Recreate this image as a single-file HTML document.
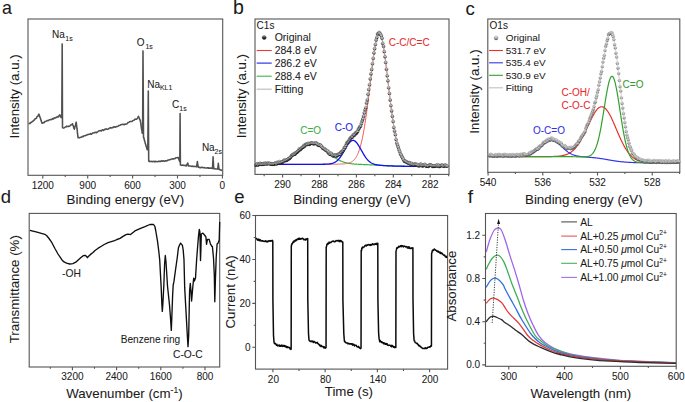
<!DOCTYPE html>
<html><head><meta charset="utf-8"><style>
html,body{margin:0;padding:0;background:#fff;}
svg{display:block;font-family:"Liberation Sans", sans-serif;}
</style></head><body>
<svg width="685" height="402" viewBox="0 0 685 402">
<defs>
<linearGradient id="sph" x1="0" y1="0" x2="0" y2="1"><stop offset="0" stop-color="#f2f2f2"/><stop offset="0.5" stop-color="#b4b4b4"/><stop offset="0.8" stop-color="#444"/><stop offset="1" stop-color="#000"/></linearGradient>
<linearGradient id="sph2" x1="0" y1="0" x2="0" y2="1"><stop offset="0" stop-color="#f4f4f4"/><stop offset="0.5" stop-color="#b8b8b8"/><stop offset="1" stop-color="#444"/></linearGradient>
<linearGradient id="sphL" x1="0" y1="0" x2="0" y2="1"><stop offset="0" stop-color="#bbb"/><stop offset="0.5" stop-color="#333"/><stop offset="1" stop-color="#000"/></linearGradient>
<linearGradient id="sphL2" x1="0" y1="0" x2="0" y2="1"><stop offset="0" stop-color="#ddd"/><stop offset="0.5" stop-color="#666"/><stop offset="1" stop-color="#222"/></linearGradient>
</defs>
<rect width="685" height="402" fill="#fff"/>
<g>
<text x="2.00" y="14.40" font-size="17.8" text-anchor="start" fill="#1a1a1a" stroke="#1a1a1a" stroke-width="0.06" >a</text>
<rect x="28.00" y="19.00" width="194.70" height="156.30" fill="none" stroke="#555555" stroke-width="1.1"/>
<path d="M222.40 175.30v3.2M199.95 175.30v1.8M177.50 175.30v3.2M155.05 175.30v1.8M132.60 175.30v3.2M110.15 175.30v1.8M87.70 175.30v3.2M65.25 175.30v1.8M42.80 175.30v3.2" stroke="#555555" stroke-width="1.1" fill="none"/>
<text x="42.80" y="188.60" font-size="10" text-anchor="middle" fill="#1a1a1a" stroke="#1a1a1a" stroke-width="0.06" >1200</text>
<text x="87.70" y="188.60" font-size="10" text-anchor="middle" fill="#1a1a1a" stroke="#1a1a1a" stroke-width="0.06" >900</text>
<text x="132.60" y="188.60" font-size="10" text-anchor="middle" fill="#1a1a1a" stroke="#1a1a1a" stroke-width="0.06" >600</text>
<text x="177.50" y="188.60" font-size="10" text-anchor="middle" fill="#1a1a1a" stroke="#1a1a1a" stroke-width="0.06" >300</text>
<text x="222.40" y="188.60" font-size="10" text-anchor="middle" fill="#1a1a1a" stroke="#1a1a1a" stroke-width="0.06" >0</text>
<text x="125.35" y="203.80" font-size="13.3" text-anchor="middle" fill="#1a1a1a" stroke="#1a1a1a" stroke-width="0.06" >Binding energy (eV)</text>
<text x="0" y="0" font-size="13.3" text-anchor="middle" fill="#1a1a1a" stroke="#1a1a1a" stroke-width="0.06" transform="translate(19.20,96.40) rotate(-90)">Intensity (a.u.)</text>
<path d="M28.70 124.02 L29.34 123.42 L29.99 123.49 L30.63 122.49 L31.27 122.52 L31.91 121.92 L32.56 121.19 L33.20 121.21 L33.76 120.20 L34.32 120.05 L34.88 119.15 L35.44 118.63 L36.00 118.42 L36.41 118.21 L36.83 116.90 L37.24 116.38 L37.66 116.17 L38.07 115.88 L38.49 114.89 L38.90 114.10 L39.14 115.35 L39.37 115.10 L39.61 116.59 L39.84 116.70 L40.08 117.24 L40.31 117.89 L40.55 118.76 L40.79 119.94 L41.02 119.99 L41.26 121.07 L41.49 121.80 L41.73 122.22 L41.96 123.07 L42.20 123.26 L42.82 122.84 L43.43 122.57 L44.05 122.63 L44.67 121.96 L45.28 121.43 L45.90 121.29 L46.58 120.91 L47.26 120.51 L47.93 120.76 L48.61 120.42 L49.29 119.72 L49.97 119.81 L50.64 119.51 L51.32 119.62 L52.00 119.23 L52.73 118.53 L53.47 118.97 L54.20 117.85 L54.93 117.90 L55.67 117.98 L56.40 117.12 L57.13 117.20 L57.87 116.49 L58.60 116.87 L58.93 116.23 L59.27 115.31 L59.60 114.88 L60.00 115.06 L60.40 116.20 L60.80 116.84 L61.20 117.58 L61.80 117.00 L62.20 43.90 L62.50 127.50 L62.80 127.86 L63.60 127.96 L64.40 127.79 L65.20 127.05 L66.00 126.96 L66.76 126.14 L67.52 126.56 L68.28 126.29 L69.04 126.41 L69.80 126.02 L70.47 125.11 L71.15 124.84 L71.83 124.74 L72.50 123.72 L72.76 124.90 L73.01 125.35 L73.27 126.05 L73.53 126.73 L73.79 128.18 L74.04 128.29 L74.30 129.15 L74.49 128.57 L74.68 128.33 L74.87 126.82 L75.06 126.47 L75.25 125.85 L75.44 125.46 L75.63 124.68 L75.82 124.00 L76.01 122.70 L76.20 122.12 L76.29 122.78 L76.37 124.02 L76.46 124.81 L76.54 124.73 L76.63 125.47 L76.71 126.25 L76.80 126.97 L76.89 127.94 L76.97 128.76 L77.06 129.15 L77.14 129.61 L77.23 130.75 L77.31 131.42 L77.40 132.33 L77.49 133.44 L77.57 133.90 L77.66 134.44 L77.74 135.26 L77.83 136.04 L77.91 136.13 L78.00 137.70 L78.75 137.58 L79.50 137.67 L80.25 137.60 L81.00 137.19 L81.68 136.97 L82.36 136.45 L83.04 136.76 L83.71 135.96 L84.39 135.74 L85.07 135.66 L85.75 135.39 L86.43 135.34 L87.11 134.83 L87.79 134.55 L88.46 134.48 L89.14 134.20 L89.82 134.24 L90.50 133.68 L91.18 134.30 L91.86 133.81 L92.54 133.12 L93.21 133.00 L93.89 132.87 L94.57 132.66 L95.25 132.20 L95.93 132.70 L96.61 132.62 L97.29 131.87 L97.96 131.66 L98.64 131.04 L99.32 130.83 L100.00 130.84 L100.67 130.57 L101.35 130.95 L102.03 130.09 L102.70 129.76 L103.38 130.50 L104.05 129.89 L104.72 129.32 L105.40 129.52 L106.08 128.82 L106.75 129.13 L107.42 129.39 L108.10 129.08 L108.78 128.73 L109.45 128.10 L110.12 128.02 L110.80 127.63 L111.47 128.04 L112.15 127.61 L112.83 127.67 L113.50 127.03 L114.17 126.73 L114.85 127.13 L115.53 127.11 L116.20 126.79 L116.88 126.56 L117.55 126.38 L118.22 126.11 L118.90 125.41 L119.58 125.51 L120.25 125.16 L120.92 124.64 L121.60 124.45 L122.28 124.51 L122.95 124.30 L123.62 124.54 L124.30 124.62 L124.97 123.92 L125.65 124.22 L126.33 124.08 L127.00 123.86 L127.67 122.94 L128.33 122.47 L129.00 122.15 L129.67 121.79 L130.33 121.47 L131.00 121.56 L131.67 121.51 L132.33 121.13 L133.00 120.44 L133.67 120.29 L134.33 120.11 L135.00 119.06 L135.67 119.31 L136.33 119.24 L137.00 118.78 L137.50 118.12 L138.00 117.21 L138.50 116.28 L138.86 117.63 L139.22 117.91 L139.58 119.12 L139.94 120.03 L140.30 120.20 L140.41 120.91 L140.51 122.16 L140.62 122.64 L140.72 122.79 L140.83 123.45 L140.93 124.18 L141.04 125.64 L141.14 126.25 L141.25 126.30 L141.36 127.68 L141.46 128.54 L141.57 128.92 L141.67 129.32 L141.78 130.23 L141.88 130.51 L141.99 131.10 L142.09 132.77 L142.20 133.15 L142.60 133.00 L143.00 50.90 L143.50 137.40 L143.80 137.43 L143.96 138.52 L144.12 138.71 L144.29 139.83 L144.45 140.48 L144.61 140.55 L144.78 141.28 L144.94 142.01 L145.10 142.64 L145.32 143.67 L145.54 144.02 L145.76 144.86 L145.98 145.25 L146.20 146.71 L146.42 146.83 L146.64 147.62 L146.86 148.42 L147.08 149.42 L147.30 149.62 L147.80 149.70 L148.30 91.00 L148.70 161.00 L149.00 161.42 L149.75 161.20 L150.50 161.43 L151.25 161.62 L152.00 161.32 L152.72 161.70 L153.44 161.39 L154.17 161.17 L154.89 161.92 L155.61 161.25 L156.33 161.51 L157.06 161.71 L157.78 161.50 L158.50 161.23 L159.22 161.37 L159.94 161.37 L160.67 161.55 L161.39 160.83 L162.11 161.24 L162.83 160.88 L163.56 160.87 L164.28 161.32 L165.00 161.01 L165.68 160.87 L166.35 160.87 L167.03 160.83 L167.70 160.17 L168.38 160.14 L169.05 159.84 L169.72 159.66 L170.40 159.64 L171.08 159.21 L171.75 159.10 L172.43 158.85 L173.10 159.12 L173.78 158.68 L174.45 158.66 L175.12 158.54 L175.80 157.66 L176.53 157.69 L177.27 157.81 L178.00 157.44 L178.27 157.49 L178.53 158.22 L178.80 159.29 L179.07 159.67 L179.33 160.59 L179.60 161.17 L179.80 161.60 L180.10 113.60 L180.40 165.00 L180.60 165.10 L181.34 165.25 L182.07 165.39 L182.81 165.02 L183.55 165.43 L184.29 165.47 L185.03 165.24 L185.76 165.75 L186.50 165.88 L186.80 164.78 L187.10 164.57 L187.40 163.59 L187.70 162.99 L187.90 164.04 L188.10 164.70 L188.30 165.05 L188.50 165.96 L189.23 166.08 L189.95 166.05 L190.68 166.04 L191.41 166.18 L192.14 166.50 L192.86 166.15 L193.59 166.54 L194.32 166.55 L195.05 166.37 L195.77 166.63 L196.50 166.87 L196.63 166.06 L196.76 165.05 L196.89 164.86 L197.01 164.00 L197.14 163.37 L197.27 162.11 L197.40 161.46 L197.50 162.04 L197.60 163.19 L197.70 163.60 L197.80 164.23 L197.90 165.12 L198.00 166.12 L198.10 166.78 L198.20 167.16 L198.91 167.14 L199.63 167.65 L200.34 167.49 L201.06 167.62 L201.77 167.30 L202.49 167.33 L203.20 167.76 L203.92 167.66 L204.63 167.49 L205.35 168.06 L206.06 167.93 L206.78 168.08 L207.50 167.70 L208.21 168.21 L208.93 167.79 L209.64 168.32 L210.35 168.12 L211.07 168.10 L211.78 168.28 L212.50 168.56 L212.54 167.46 L212.57 166.68 L212.61 166.22 L212.65 165.34 L212.69 164.57 L212.72 163.90 L212.76 163.13 L212.80 162.52 L212.84 161.89 L212.88 161.18 L212.91 160.76 L212.95 159.77 L212.99 159.20 L213.03 158.31 L213.06 157.71 L213.10 156.81 L213.14 157.66 L213.17 158.23 L213.21 159.38 L213.25 159.98 L213.29 160.48 L213.32 161.36 L213.36 162.35 L213.40 162.56 L213.44 163.70 L213.47 164.18 L213.51 164.93 L213.55 165.85 L213.59 166.30 L213.62 167.08 L213.66 167.90 L213.70 168.79 L214.52 168.51 L215.34 168.90 L216.16 168.92 L216.98 168.98 L217.80 168.94 L217.87 168.12 L217.94 167.16 L218.01 166.42 L218.09 165.60 L218.16 165.22 L218.23 164.14 L218.30 163.30 L218.39 164.00 L218.48 165.20 L218.56 165.97 L218.65 166.60 L218.74 167.12 L218.82 167.85 L218.91 168.63 L219.00 169.48 L219.75 169.54 L220.50 169.97 L221.25 170.11 L222.00 170.78" stroke="#505050" stroke-width="1.55" fill="none" stroke-linejoin="round" />
<text x="52.00" y="38.30" font-size="10" text-anchor="start" fill="#1a1a1a" stroke="#1a1a1a" stroke-width="0.06" >Na</text>
<text x="65.30" y="40.60" font-size="7.0" text-anchor="start" fill="#1a1a1a" stroke="#1a1a1a" stroke-width="0.06" >1s</text>
<text x="136.80" y="46.40" font-size="10" text-anchor="start" fill="#1a1a1a" stroke="#1a1a1a" stroke-width="0.06" >O</text>
<text x="145.40" y="48.70" font-size="7.0" text-anchor="start" fill="#1a1a1a" stroke="#1a1a1a" stroke-width="0.06" >1s</text>
<text x="147.20" y="87.60" font-size="10" text-anchor="start" fill="#1a1a1a" stroke="#1a1a1a" stroke-width="0.06" >Na</text>
<text x="159.90" y="90.30" font-size="7.0" text-anchor="start" fill="#1a1a1a" stroke="#1a1a1a" stroke-width="0.06" >KL1</text>
<text x="172.10" y="108.30" font-size="10" text-anchor="start" fill="#1a1a1a" stroke="#1a1a1a" stroke-width="0.06" >C</text>
<text x="179.30" y="110.50" font-size="7.0" text-anchor="start" fill="#1a1a1a" stroke="#1a1a1a" stroke-width="0.06" >1s</text>
<text x="201.90" y="150.90" font-size="10" text-anchor="start" fill="#1a1a1a" stroke="#1a1a1a" stroke-width="0.06" >Na</text>
<text x="214.60" y="153.80" font-size="7.0" text-anchor="start" fill="#1a1a1a" stroke="#1a1a1a" stroke-width="0.06" >2s</text>
</g>
<g>
<text x="233.00" y="14.30" font-size="19.5" text-anchor="start" fill="#1a1a1a" stroke="#1a1a1a" stroke-width="0.06" >b</text>
<rect x="255.00" y="19.00" width="194.00" height="155.40" fill="none" stroke="#555555" stroke-width="1.1"/>
<path d="M264.15 174.40v1.8M282.60 174.40v3.2M301.05 174.40v1.8M319.50 174.40v3.2M337.95 174.40v1.8M356.40 174.40v3.2M374.85 174.40v1.8M393.30 174.40v3.2M411.75 174.40v1.8M430.20 174.40v3.2M448.65 174.40v1.8" stroke="#555555" stroke-width="1.1" fill="none"/>
<text x="282.60" y="187.80" font-size="10" text-anchor="middle" fill="#1a1a1a" stroke="#1a1a1a" stroke-width="0.06" >290</text>
<text x="319.50" y="187.80" font-size="10" text-anchor="middle" fill="#1a1a1a" stroke="#1a1a1a" stroke-width="0.06" >288</text>
<text x="356.40" y="187.80" font-size="10" text-anchor="middle" fill="#1a1a1a" stroke="#1a1a1a" stroke-width="0.06" >286</text>
<text x="393.30" y="187.80" font-size="10" text-anchor="middle" fill="#1a1a1a" stroke="#1a1a1a" stroke-width="0.06" >284</text>
<text x="430.20" y="187.80" font-size="10" text-anchor="middle" fill="#1a1a1a" stroke="#1a1a1a" stroke-width="0.06" >282</text>
<text x="352.00" y="203.80" font-size="13.3" text-anchor="middle" fill="#1a1a1a" stroke="#1a1a1a" stroke-width="0.06" >Binding energy (eV)</text>
<text x="0" y="0" font-size="13.3" text-anchor="middle" fill="#1a1a1a" stroke="#1a1a1a" stroke-width="0.06" transform="translate(245.50,96.10) rotate(-90)">Intensity (a.u.)</text>
<path d="M256.00 164.28 L256.50 164.28 L257.00 164.28 L257.50 164.28 L258.00 164.27 L258.50 164.27 L259.00 164.27 L259.50 164.26 L260.00 164.26 L260.50 164.25 L261.00 164.25 L261.50 164.24 L262.00 164.23 L262.50 164.23 L263.00 164.22 L263.50 164.21 L264.00 164.20 L264.50 164.18 L265.00 164.17 L265.50 164.16 L266.00 164.14 L266.50 164.12 L267.00 164.10 L267.50 164.08 L268.00 164.06 L268.50 164.03 L269.00 164.01 L269.50 163.98 L270.00 163.94 L270.50 163.91 L271.00 163.87 L271.50 163.83 L272.00 163.78 L272.50 163.73 L273.00 163.68 L273.50 163.62 L274.00 163.56 L274.50 163.49 L275.00 163.41 L275.50 163.34 L276.00 163.25 L276.50 163.16 L277.00 163.07 L277.50 162.96 L278.00 162.85 L278.50 162.74 L279.00 162.61 L279.50 162.48 L280.00 162.34 L280.50 162.19 L281.00 162.03 L281.50 161.87 L282.00 161.69 L282.50 161.51 L283.00 161.31 L283.50 161.11 L284.00 160.89 L284.50 160.67 L285.00 160.43 L285.50 160.19 L286.00 159.93 L286.50 159.66 L287.00 159.38 L287.50 159.09 L288.00 158.79 L288.50 158.48 L289.00 158.16 L289.50 157.83 L290.00 157.49 L290.50 157.14 L291.00 156.77 L291.50 156.40 L292.00 156.02 L292.50 155.64 L293.00 155.24 L293.50 154.84 L294.00 154.43 L294.50 154.01 L295.00 153.59 L295.50 153.17 L296.00 152.74 L296.50 152.31 L297.00 151.88 L297.50 151.44 L298.00 151.01 L298.50 150.57 L299.00 150.14 L299.50 149.72 L300.00 149.29 L300.50 148.87 L301.00 148.46 L301.50 148.06 L302.00 147.66 L302.50 147.27 L303.00 146.90 L303.50 146.54 L304.00 146.19 L304.50 145.85 L305.00 145.53 L305.50 145.22 L306.00 144.94 L306.50 144.67 L307.00 144.42 L307.50 144.19 L308.00 143.98 L308.50 143.79 L309.00 143.62 L309.50 143.48 L310.00 143.36 L310.50 143.26 L311.00 143.18 L311.50 143.13 L312.00 143.11 L312.50 143.10 L313.00 143.12 L313.50 143.17 L314.00 143.24 L314.50 143.33 L315.00 143.45 L315.50 143.59 L316.00 143.75 L316.50 143.94 L317.00 144.14 L317.50 144.37 L318.00 144.62 L318.50 144.88 L319.00 145.17 L319.50 145.47 L320.00 145.79 L320.50 146.12 L321.00 146.47 L321.50 146.83 L322.00 147.20 L322.50 147.59 L323.00 147.98 L323.50 148.38 L324.00 148.79 L324.50 149.21 L325.00 149.63 L325.50 150.06 L326.00 150.49 L326.50 150.93 L327.00 151.36 L327.50 151.80 L328.00 152.23 L328.50 152.66 L329.00 153.09 L329.50 153.52 L330.00 153.94 L330.50 154.36 L331.00 154.77 L331.50 155.17 L332.00 155.57 L332.50 155.96 L333.00 156.34 L333.50 156.71 L334.00 157.08 L334.50 157.43 L335.00 157.78 L335.50 158.11 L336.00 158.43 L336.50 158.75 L337.00 159.05 L337.50 159.34 L338.00 159.63 L338.50 159.90 L339.00 160.16 L339.50 160.41 L340.00 160.65 L340.50 160.87 L341.00 161.09 L341.50 161.30 L342.00 161.50 L342.50 161.69 L343.00 161.87 L343.50 162.04 L344.00 162.20 L344.50 162.35 L345.00 162.50 L345.50 162.63 L346.00 162.76 L346.50 162.88 L347.00 163.00 L347.50 163.10 L348.00 163.20 L348.50 163.30 L349.00 163.39 L349.50 163.47 L350.00 163.55 L350.50 163.62 L351.00 163.69 L351.50 163.75 L352.00 163.81 L352.50 163.86 L353.00 163.92 L353.50 163.96 L354.00 164.01 L354.50 164.05 L355.00 164.09 L355.50 164.13 L356.00 164.17 L356.50 164.20 L357.00 164.23 L357.50 164.26 L358.00 164.29 L358.50 164.31 L359.00 164.34 L359.50 164.36 L360.00 164.39 L360.50 164.41 L361.00 164.43 L361.50 164.45 L362.00 164.47 L362.50 164.50 L363.00 164.52 L363.50 164.54 L364.00 164.56 L364.50 164.58 L365.00 164.60 L365.50 164.62 L366.00 164.64 L366.50 164.66 L367.00 164.68 L367.50 164.70 L368.00 164.72 L368.50 164.74 L369.00 164.76 L369.50 164.79 L370.00 164.81 L370.50 164.83 L371.00 164.86 L371.50 164.88 L372.00 164.91 L372.50 164.93 L373.00 164.96 L373.50 164.98 L374.00 165.01 L374.50 165.04 L375.00 165.06 L375.50 165.09 L376.00 165.12 L376.50 165.15 L377.00 165.18 L377.50 165.20 L378.00 165.23 L378.50 165.26 L379.00 165.29 L379.50 165.32 L380.00 165.35 L380.50 165.38 L381.00 165.41 L381.50 165.44 L382.00 165.47 L382.50 165.49 L383.00 165.52 L383.50 165.55 L384.00 165.58 L384.50 165.61 L385.00 165.63 L385.50 165.66 L386.00 165.69 L386.50 165.71 L387.00 165.74 L387.50 165.76 L388.00 165.79 L388.50 165.81 L389.00 165.84 L389.50 165.86 L390.00 165.88 L390.50 165.90 L391.00 165.92 L391.50 165.94 L392.00 165.96 L392.50 165.98 L393.00 166.00 L393.50 166.02 L394.00 166.03 L394.50 166.05 L395.00 166.07 L395.50 166.08 L396.00 166.10 L396.50 166.11 L397.00 166.12 L397.50 166.14 L398.00 166.15 L398.50 166.16 L399.00 166.17 L399.50 166.18 L400.00 166.19 L400.50 166.20 L401.00 166.21 L401.50 166.22 L402.00 166.23 L402.50 166.24 L403.00 166.25 L403.50 166.26 L404.00 166.26 L404.50 166.27 L405.00 166.28 L405.50 166.28 L406.00 166.29 L406.50 166.30 L407.00 166.30 L407.50 166.31 L408.00 166.31 L408.50 166.32 L409.00 166.32 L409.50 166.32 L410.00 166.33 L410.50 166.33 L411.00 166.34 L411.50 166.34 L412.00 166.34 L412.50 166.34 L413.00 166.35 L413.50 166.35 L414.00 166.35 L414.50 166.36 L415.00 166.36 L415.50 166.36 L416.00 166.36 L416.50 166.36 L417.00 166.37 L417.50 166.37 L418.00 166.37 L418.50 166.37 L419.00 166.37 L419.50 166.37 L420.00 166.38 L420.50 166.38 L421.00 166.38 L421.50 166.38 L422.00 166.38 L422.50 166.38 L423.00 166.38 L423.50 166.38 L424.00 166.38 L424.50 166.39 L425.00 166.39 L425.50 166.39 L426.00 166.39 L426.50 166.39 L427.00 166.39 L427.50 166.39 L428.00 166.39 L428.50 166.39 L429.00 166.39 L429.50 166.39 L430.00 166.39 L430.50 166.39 L431.00 166.39 L431.50 166.39 L432.00 166.39 L432.50 166.39 L433.00 166.39 L433.50 166.39 L434.00 166.39 L434.50 166.40 L435.00 166.40 L435.50 166.40 L436.00 166.40 L436.50 166.40 L437.00 166.40 L437.50 166.40 L438.00 166.40 L438.50 166.40 L439.00 166.40 L439.50 166.40 L440.00 166.40 L440.50 166.40 L441.00 166.40 L441.50 166.40 L442.00 166.40 L442.50 166.40 L443.00 166.40 L443.50 166.40 L444.00 166.40 L444.50 166.40 L445.00 166.40 L445.50 166.40 L446.00 166.40 L446.50 166.40 L447.00 166.40 L447.50 166.40 L448.00 166.40 L448.50 166.40 L449.00 166.40" stroke="#3cb44b" stroke-width="1.2" fill="none" stroke-linejoin="round" />
<path d="M256.00 164.30 L256.50 164.30 L257.00 164.30 L257.50 164.30 L258.00 164.30 L258.50 164.30 L259.00 164.30 L259.50 164.30 L260.00 164.30 L260.50 164.30 L261.00 164.30 L261.50 164.30 L262.00 164.30 L262.50 164.30 L263.00 164.30 L263.50 164.30 L264.00 164.30 L264.50 164.30 L265.00 164.30 L265.50 164.30 L266.00 164.30 L266.50 164.30 L267.00 164.30 L267.50 164.30 L268.00 164.30 L268.50 164.30 L269.00 164.30 L269.50 164.30 L270.00 164.30 L270.50 164.30 L271.00 164.30 L271.50 164.30 L272.00 164.30 L272.50 164.30 L273.00 164.30 L273.50 164.30 L274.00 164.30 L274.50 164.30 L275.00 164.30 L275.50 164.30 L276.00 164.30 L276.50 164.30 L277.00 164.30 L277.50 164.30 L278.00 164.30 L278.50 164.30 L279.00 164.30 L279.50 164.30 L280.00 164.30 L280.50 164.30 L281.00 164.30 L281.50 164.30 L282.00 164.30 L282.50 164.30 L283.00 164.30 L283.50 164.30 L284.00 164.30 L284.50 164.30 L285.00 164.30 L285.50 164.30 L286.00 164.30 L286.50 164.30 L287.00 164.30 L287.50 164.30 L288.00 164.30 L288.50 164.30 L289.00 164.30 L289.50 164.30 L290.00 164.30 L290.50 164.30 L291.00 164.30 L291.50 164.30 L292.00 164.30 L292.50 164.30 L293.00 164.30 L293.50 164.30 L294.00 164.30 L294.50 164.30 L295.00 164.30 L295.50 164.30 L296.00 164.30 L296.50 164.30 L297.00 164.30 L297.50 164.30 L298.00 164.30 L298.50 164.30 L299.00 164.30 L299.50 164.30 L300.00 164.30 L300.50 164.30 L301.00 164.30 L301.50 164.30 L302.00 164.30 L302.50 164.30 L303.00 164.30 L303.50 164.30 L304.00 164.30 L304.50 164.30 L305.00 164.30 L305.50 164.30 L306.00 164.30 L306.50 164.30 L307.00 164.30 L307.50 164.30 L308.00 164.30 L308.50 164.30 L309.00 164.30 L309.50 164.30 L310.00 164.30 L310.50 164.30 L311.00 164.30 L311.50 164.30 L312.00 164.30 L312.50 164.30 L313.00 164.30 L313.50 164.30 L314.00 164.30 L314.50 164.30 L315.00 164.30 L315.50 164.30 L316.00 164.30 L316.50 164.30 L317.00 164.30 L317.50 164.30 L318.00 164.30 L318.50 164.30 L319.00 164.30 L319.50 164.29 L320.00 164.29 L320.50 164.29 L321.00 164.29 L321.50 164.29 L322.00 164.29 L322.50 164.29 L323.00 164.29 L323.50 164.29 L324.00 164.29 L324.50 164.29 L325.00 164.28 L325.50 164.28 L326.00 164.28 L326.50 164.28 L327.00 164.28 L327.50 164.28 L328.00 164.27 L328.50 164.27 L329.00 164.27 L329.50 164.27 L330.00 164.26 L330.50 164.26 L331.00 164.26 L331.50 164.25 L332.00 164.25 L332.50 164.24 L333.00 164.24 L333.50 164.23 L334.00 164.23 L334.50 164.22 L335.00 164.21 L335.50 164.20 L336.00 164.20 L336.50 164.19 L337.00 164.18 L337.50 164.17 L338.00 164.15 L338.50 164.14 L339.00 164.13 L339.50 164.11 L340.00 164.09 L340.50 164.08 L341.00 164.05 L341.50 164.03 L342.00 164.00 L342.50 163.98 L343.00 163.94 L343.50 163.91 L344.00 163.87 L344.50 163.82 L345.00 163.77 L345.50 163.71 L346.00 163.64 L346.50 163.56 L347.00 163.48 L347.50 163.38 L348.00 163.27 L348.50 163.14 L349.00 163.00 L349.50 162.83 L350.00 162.65 L350.50 162.44 L351.00 162.20 L351.50 161.93 L352.00 161.62 L352.50 161.28 L353.00 160.89 L353.50 160.46 L354.00 159.97 L354.50 159.42 L355.00 158.81 L355.50 158.12 L356.00 157.36 L356.50 156.52 L357.00 155.59 L357.50 154.56 L358.00 153.43 L358.50 152.19 L359.00 150.83 L359.50 149.35 L360.00 147.73 L360.50 145.99 L361.00 144.10 L361.50 142.06 L362.00 139.87 L362.50 137.53 L363.00 135.03 L363.50 132.38 L364.00 129.56 L364.50 126.59 L365.00 123.46 L365.50 120.18 L366.00 116.75 L366.50 113.19 L367.00 109.50 L367.50 105.68 L368.00 101.76 L368.50 97.75 L369.00 93.66 L369.50 89.51 L370.00 85.33 L370.50 81.12 L371.00 76.93 L371.50 72.76 L372.00 68.65 L372.50 64.62 L373.00 60.71 L373.50 56.93 L374.00 53.33 L374.50 49.93 L375.00 46.76 L375.50 43.84 L376.00 41.22 L376.50 38.91 L377.00 36.95 L377.50 35.34 L378.00 34.12 L378.50 33.29 L379.00 32.87 L379.50 32.85 L380.00 33.26 L380.50 34.07 L381.00 35.29 L381.50 36.90 L382.00 38.88 L382.50 41.20 L383.00 43.85 L383.50 46.79 L384.00 50.01 L384.50 53.46 L385.00 57.11 L385.50 60.94 L386.00 64.92 L386.50 69.01 L387.00 73.19 L387.50 77.42 L388.00 81.69 L388.50 85.96 L389.00 90.20 L389.50 94.41 L390.00 98.55 L390.50 102.62 L391.00 106.58 L391.50 110.43 L392.00 114.16 L392.50 117.75 L393.00 121.19 L393.50 124.48 L394.00 127.62 L394.50 130.59 L395.00 133.40 L395.50 136.04 L396.00 138.53 L396.50 140.85 L397.00 143.01 L397.50 145.02 L398.00 146.88 L398.50 148.60 L399.00 150.18 L399.50 151.63 L400.00 152.96 L400.50 154.17 L401.00 155.27 L401.50 156.27 L402.00 157.18 L402.50 158.00 L403.00 158.73 L403.50 159.40 L404.00 159.99 L404.50 160.53 L405.00 161.00 L405.50 161.43 L406.00 161.81 L406.50 162.15 L407.00 162.45 L407.50 162.72 L408.00 162.96 L408.50 163.18 L409.00 163.37 L409.50 163.54 L410.00 163.70 L410.50 163.84 L411.00 163.96 L411.50 164.07 L412.00 164.17 L412.50 164.27 L413.00 164.35 L413.50 164.43 L414.00 164.50 L414.50 164.56 L415.00 164.62 L415.50 164.68 L416.00 164.73 L416.50 164.78 L417.00 164.83 L417.50 164.87 L418.00 164.91 L418.50 164.95 L419.00 164.99 L419.50 165.02 L420.00 165.05 L420.50 165.09 L421.00 165.12 L421.50 165.15 L422.00 165.18 L422.50 165.20 L423.00 165.23 L423.50 165.26 L424.00 165.28 L424.50 165.31 L425.00 165.33 L425.50 165.35 L426.00 165.37 L426.50 165.39 L427.00 165.41 L427.50 165.43 L428.00 165.45 L428.50 165.47 L429.00 165.49 L429.50 165.51 L430.00 165.52 L430.50 165.54 L431.00 165.56 L431.50 165.57 L432.00 165.59 L432.50 165.60 L433.00 165.62 L433.50 165.63 L434.00 165.64 L434.50 165.66 L435.00 165.67 L435.50 165.68 L436.00 165.70 L436.50 165.71 L437.00 165.72 L437.50 165.73 L438.00 165.74 L438.50 165.75 L439.00 165.76 L439.50 165.77 L440.00 165.78 L440.50 165.79 L441.00 165.80 L441.50 165.81 L442.00 165.82 L442.50 165.83 L443.00 165.84 L443.50 165.85 L444.00 165.86 L444.50 165.86 L445.00 165.87 L445.50 165.88 L446.00 165.89 L446.50 165.90 L447.00 165.90 L447.50 165.91 L448.00 165.92 L448.50 165.92 L449.00 165.93" stroke="#f05a5a" stroke-width="1.0" fill="none" stroke-linejoin="round" />
<path d="M256.00 164.30 L256.50 164.30 L257.00 164.30 L257.50 164.30 L258.00 164.30 L258.50 164.30 L259.00 164.30 L259.50 164.30 L260.00 164.30 L260.50 164.30 L261.00 164.30 L261.50 164.30 L262.00 164.30 L262.50 164.30 L263.00 164.30 L263.50 164.30 L264.00 164.30 L264.50 164.30 L265.00 164.30 L265.50 164.30 L266.00 164.30 L266.50 164.30 L267.00 164.30 L267.50 164.30 L268.00 164.30 L268.50 164.30 L269.00 164.30 L269.50 164.30 L270.00 164.30 L270.50 164.30 L271.00 164.30 L271.50 164.30 L272.00 164.30 L272.50 164.30 L273.00 164.30 L273.50 164.30 L274.00 164.30 L274.50 164.30 L275.00 164.30 L275.50 164.30 L276.00 164.30 L276.50 164.30 L277.00 164.30 L277.50 164.30 L278.00 164.30 L278.50 164.30 L279.00 164.30 L279.50 164.30 L280.00 164.30 L280.50 164.30 L281.00 164.30 L281.50 164.30 L282.00 164.30 L282.50 164.30 L283.00 164.30 L283.50 164.30 L284.00 164.30 L284.50 164.30 L285.00 164.30 L285.50 164.30 L286.00 164.30 L286.50 164.30 L287.00 164.30 L287.50 164.30 L288.00 164.30 L288.50 164.30 L289.00 164.30 L289.50 164.30 L290.00 164.30 L290.50 164.30 L291.00 164.30 L291.50 164.30 L292.00 164.30 L292.50 164.30 L293.00 164.30 L293.50 164.30 L294.00 164.30 L294.50 164.30 L295.00 164.30 L295.50 164.30 L296.00 164.30 L296.50 164.30 L297.00 164.30 L297.50 164.30 L298.00 164.30 L298.50 164.30 L299.00 164.30 L299.50 164.30 L300.00 164.30 L300.50 164.30 L301.00 164.30 L301.50 164.30 L302.00 164.30 L302.50 164.30 L303.00 164.30 L303.50 164.30 L304.00 164.30 L304.50 164.30 L305.00 164.30 L305.50 164.30 L306.00 164.30 L306.50 164.30 L307.00 164.30 L307.50 164.30 L308.00 164.30 L308.50 164.30 L309.00 164.30 L309.50 164.30 L310.00 164.30 L310.50 164.30 L311.00 164.30 L311.50 164.30 L312.00 164.30 L312.50 164.30 L313.00 164.30 L313.50 164.30 L314.00 164.30 L314.50 164.30 L315.00 164.30 L315.50 164.30 L316.00 164.30 L316.50 164.30 L317.00 164.30 L317.50 164.30 L318.00 164.30 L318.50 164.30 L319.00 164.30 L319.50 164.30 L320.00 164.30 L320.50 164.29 L321.00 164.29 L321.50 164.29 L322.00 164.28 L322.50 164.28 L323.00 164.27 L323.50 164.27 L324.00 164.26 L324.50 164.25 L325.00 164.23 L325.50 164.22 L326.00 164.20 L326.50 164.18 L327.00 164.15 L327.50 164.12 L328.00 164.08 L328.50 164.03 L329.00 163.98 L329.50 163.91 L330.00 163.84 L330.50 163.75 L331.00 163.65 L331.50 163.54 L332.00 163.41 L332.50 163.26 L333.00 163.09 L333.50 162.89 L334.00 162.67 L334.50 162.43 L335.00 162.16 L335.50 161.85 L336.00 161.52 L336.50 161.15 L337.00 160.74 L337.50 160.30 L338.00 159.82 L338.50 159.29 L339.00 158.73 L339.50 158.13 L340.00 157.49 L340.50 156.82 L341.00 156.10 L341.50 155.35 L342.00 154.57 L342.50 153.76 L343.00 152.92 L343.50 152.07 L344.00 151.20 L344.50 150.32 L345.00 149.43 L345.50 148.55 L346.00 147.68 L346.50 146.82 L347.00 145.99 L347.50 145.19 L348.00 144.43 L348.50 143.72 L349.00 143.06 L349.50 142.46 L350.00 141.93 L350.50 141.47 L351.00 141.08 L351.50 140.78 L352.00 140.57 L352.50 140.44 L353.00 140.40 L353.50 140.45 L354.00 140.59 L354.50 140.81 L355.00 141.13 L355.50 141.52 L356.00 141.99 L356.50 142.53 L357.00 143.14 L357.50 143.81 L358.00 144.54 L358.50 145.31 L359.00 146.12 L359.50 146.97 L360.00 147.83 L360.50 148.72 L361.00 149.62 L361.50 150.51 L362.00 151.41 L362.50 152.30 L363.00 153.17 L363.50 154.02 L364.00 154.84 L364.50 155.64 L365.00 156.41 L365.50 157.14 L366.00 157.84 L366.50 158.49 L367.00 159.11 L367.50 159.69 L368.00 160.23 L368.50 160.74 L369.00 161.20 L369.50 161.63 L370.00 162.02 L370.50 162.38 L371.00 162.71 L371.50 163.00 L372.00 163.27 L372.50 163.52 L373.00 163.74 L373.50 163.93 L374.00 164.11 L374.50 164.27 L375.00 164.41 L375.50 164.54 L376.00 164.65 L376.50 164.75 L377.00 164.85 L377.50 164.93 L378.00 165.00 L378.50 165.07 L379.00 165.13 L379.50 165.19 L380.00 165.24 L380.50 165.29 L381.00 165.34 L381.50 165.38 L382.00 165.42 L382.50 165.46 L383.00 165.49 L383.50 165.53 L384.00 165.56 L384.50 165.59 L385.00 165.62 L385.50 165.65 L386.00 165.68 L386.50 165.71 L387.00 165.73 L387.50 165.76 L388.00 165.79 L388.50 165.81 L389.00 165.83 L389.50 165.86 L390.00 165.88 L390.50 165.90 L391.00 165.92 L391.50 165.94 L392.00 165.96 L392.50 165.98 L393.00 166.00 L393.50 166.02 L394.00 166.03 L394.50 166.05 L395.00 166.07 L395.50 166.08 L396.00 166.10 L396.50 166.11 L397.00 166.12 L397.50 166.14 L398.00 166.15 L398.50 166.16 L399.00 166.17 L399.50 166.18 L400.00 166.19 L400.50 166.20 L401.00 166.21 L401.50 166.22 L402.00 166.23 L402.50 166.24 L403.00 166.25 L403.50 166.26 L404.00 166.26 L404.50 166.27 L405.00 166.28 L405.50 166.28 L406.00 166.29 L406.50 166.30 L407.00 166.30 L407.50 166.31 L408.00 166.31 L408.50 166.32 L409.00 166.32 L409.50 166.32 L410.00 166.33 L410.50 166.33 L411.00 166.34 L411.50 166.34 L412.00 166.34 L412.50 166.34 L413.00 166.35 L413.50 166.35 L414.00 166.35 L414.50 166.36 L415.00 166.36 L415.50 166.36 L416.00 166.36 L416.50 166.36 L417.00 166.37 L417.50 166.37 L418.00 166.37 L418.50 166.37 L419.00 166.37 L419.50 166.37 L420.00 166.38 L420.50 166.38 L421.00 166.38 L421.50 166.38 L422.00 166.38 L422.50 166.38 L423.00 166.38 L423.50 166.38 L424.00 166.38 L424.50 166.39 L425.00 166.39 L425.50 166.39 L426.00 166.39 L426.50 166.39 L427.00 166.39 L427.50 166.39 L428.00 166.39 L428.50 166.39 L429.00 166.39 L429.50 166.39 L430.00 166.39 L430.50 166.39 L431.00 166.39 L431.50 166.39 L432.00 166.39 L432.50 166.39 L433.00 166.39 L433.50 166.39 L434.00 166.39 L434.50 166.40 L435.00 166.40 L435.50 166.40 L436.00 166.40 L436.50 166.40 L437.00 166.40 L437.50 166.40 L438.00 166.40 L438.50 166.40 L439.00 166.40 L439.50 166.40 L440.00 166.40 L440.50 166.40 L441.00 166.40 L441.50 166.40 L442.00 166.40 L442.50 166.40 L443.00 166.40 L443.50 166.40 L444.00 166.40 L444.50 166.40 L445.00 166.40 L445.50 166.40 L446.00 166.40 L446.50 166.40 L447.00 166.40 L447.50 166.40 L448.00 166.40 L448.50 166.40 L449.00 166.40" stroke="#1010f0" stroke-width="1.3" fill="none" stroke-linejoin="round" />
<g fill="url(#sph)" stroke="#2a2a2a" stroke-width="0.45">
<circle cx="255.85" cy="165.14" r="1.5"/><circle cx="256.59" cy="164.37" r="1.5"/><circle cx="257.32" cy="163.82" r="1.5"/><circle cx="258.06" cy="165.11" r="1.5"/><circle cx="258.80" cy="163.93" r="1.5"/><circle cx="259.54" cy="164.00" r="1.5"/><circle cx="260.28" cy="163.36" r="1.5"/><circle cx="261.01" cy="164.03" r="1.5"/><circle cx="261.75" cy="164.19" r="1.5"/><circle cx="262.49" cy="164.23" r="1.5"/><circle cx="263.23" cy="163.67" r="1.5"/><circle cx="263.97" cy="164.21" r="1.5"/><circle cx="264.70" cy="163.29" r="1.5"/><circle cx="265.44" cy="163.73" r="1.5"/><circle cx="266.18" cy="163.40" r="1.5"/><circle cx="266.92" cy="163.93" r="1.5"/><circle cx="267.66" cy="163.25" r="1.5"/><circle cx="268.39" cy="163.18" r="1.5"/><circle cx="269.13" cy="163.65" r="1.5"/><circle cx="269.87" cy="163.47" r="1.5"/><circle cx="270.61" cy="164.05" r="1.5"/><circle cx="271.35" cy="163.89" r="1.5"/><circle cx="272.08" cy="164.22" r="1.5"/><circle cx="272.82" cy="163.98" r="1.5"/><circle cx="273.56" cy="164.00" r="1.5"/><circle cx="274.30" cy="164.20" r="1.5"/><circle cx="275.04" cy="163.21" r="1.5"/><circle cx="275.77" cy="162.98" r="1.5"/><circle cx="276.51" cy="164.03" r="1.5"/><circle cx="277.25" cy="162.39" r="1.5"/><circle cx="277.99" cy="163.26" r="1.5"/><circle cx="278.73" cy="162.94" r="1.5"/><circle cx="279.46" cy="161.67" r="1.5"/><circle cx="280.20" cy="162.89" r="1.5"/><circle cx="280.94" cy="162.76" r="1.5"/><circle cx="281.68" cy="162.04" r="1.5"/><circle cx="282.42" cy="161.96" r="1.5"/><circle cx="283.15" cy="161.81" r="1.5"/><circle cx="283.89" cy="160.29" r="1.5"/><circle cx="284.63" cy="160.65" r="1.5"/><circle cx="285.37" cy="160.26" r="1.5"/><circle cx="286.11" cy="160.48" r="1.5"/><circle cx="286.84" cy="160.02" r="1.5"/><circle cx="287.58" cy="159.63" r="1.5"/><circle cx="288.32" cy="158.75" r="1.5"/><circle cx="289.06" cy="158.83" r="1.5"/><circle cx="289.80" cy="157.96" r="1.5"/><circle cx="290.53" cy="157.46" r="1.5"/><circle cx="291.27" cy="156.09" r="1.5"/><circle cx="292.01" cy="155.17" r="1.5"/><circle cx="292.75" cy="154.78" r="1.5"/><circle cx="293.49" cy="154.60" r="1.5"/><circle cx="294.22" cy="153.53" r="1.5"/><circle cx="294.96" cy="154.23" r="1.5"/><circle cx="295.70" cy="153.10" r="1.5"/><circle cx="296.44" cy="152.59" r="1.5"/><circle cx="297.18" cy="151.95" r="1.5"/><circle cx="297.91" cy="151.41" r="1.5"/><circle cx="298.65" cy="150.42" r="1.5"/><circle cx="299.39" cy="148.92" r="1.5"/><circle cx="300.13" cy="149.72" r="1.5"/><circle cx="300.87" cy="149.02" r="1.5"/><circle cx="301.60" cy="147.98" r="1.5"/><circle cx="302.34" cy="147.46" r="1.5"/><circle cx="303.08" cy="147.13" r="1.5"/><circle cx="303.82" cy="145.53" r="1.5"/><circle cx="304.56" cy="146.24" r="1.5"/><circle cx="305.29" cy="144.90" r="1.5"/><circle cx="306.03" cy="144.15" r="1.5"/><circle cx="306.77" cy="144.11" r="1.5"/><circle cx="307.51" cy="144.60" r="1.5"/><circle cx="308.25" cy="143.35" r="1.5"/><circle cx="308.98" cy="144.06" r="1.5"/><circle cx="309.72" cy="144.28" r="1.5"/><circle cx="310.46" cy="143.25" r="1.5"/><circle cx="311.20" cy="142.95" r="1.5"/><circle cx="311.94" cy="143.07" r="1.5"/><circle cx="312.67" cy="143.44" r="1.5"/><circle cx="313.41" cy="143.64" r="1.5"/><circle cx="314.15" cy="143.47" r="1.5"/><circle cx="314.89" cy="143.68" r="1.5"/><circle cx="315.63" cy="142.87" r="1.5"/><circle cx="316.36" cy="143.25" r="1.5"/><circle cx="317.10" cy="143.74" r="1.5"/><circle cx="317.84" cy="144.97" r="1.5"/><circle cx="318.58" cy="144.56" r="1.5"/><circle cx="319.32" cy="145.46" r="1.5"/><circle cx="320.05" cy="144.93" r="1.5"/><circle cx="320.79" cy="145.51" r="1.5"/><circle cx="321.53" cy="146.41" r="1.5"/><circle cx="322.27" cy="147.68" r="1.5"/><circle cx="323.01" cy="148.29" r="1.5"/><circle cx="323.74" cy="148.84" r="1.5"/><circle cx="324.48" cy="148.74" r="1.5"/><circle cx="325.22" cy="149.75" r="1.5"/><circle cx="325.96" cy="150.26" r="1.5"/><circle cx="326.70" cy="150.87" r="1.5"/><circle cx="327.43" cy="150.83" r="1.5"/><circle cx="328.17" cy="152.81" r="1.5"/><circle cx="328.91" cy="152.11" r="1.5"/><circle cx="329.65" cy="154.04" r="1.5"/><circle cx="330.39" cy="154.46" r="1.5"/><circle cx="331.12" cy="153.26" r="1.5"/><circle cx="331.86" cy="154.46" r="1.5"/><circle cx="332.60" cy="155.45" r="1.5"/><circle cx="333.34" cy="156.00" r="1.5"/><circle cx="334.08" cy="155.28" r="1.5"/><circle cx="334.81" cy="155.08" r="1.5"/><circle cx="335.55" cy="155.02" r="1.5"/><circle cx="336.29" cy="156.28" r="1.5"/><circle cx="337.03" cy="154.81" r="1.5"/><circle cx="337.77" cy="155.21" r="1.5"/><circle cx="338.50" cy="154.04" r="1.5"/><circle cx="339.24" cy="154.25" r="1.5"/><circle cx="339.98" cy="154.42" r="1.5"/><circle cx="340.72" cy="152.23" r="1.5"/><circle cx="341.46" cy="152.66" r="1.5"/><circle cx="342.19" cy="151.18" r="1.5"/><circle cx="342.93" cy="150.86" r="1.5"/><circle cx="343.67" cy="149.45" r="1.5"/><circle cx="344.41" cy="147.47" r="1.5"/><circle cx="345.15" cy="147.49" r="1.5"/><circle cx="345.88" cy="145.54" r="1.5"/><circle cx="346.62" cy="143.50" r="1.5"/><circle cx="347.36" cy="142.27" r="1.5"/><circle cx="348.10" cy="141.99" r="1.5"/><circle cx="348.84" cy="140.81" r="1.5"/><circle cx="349.57" cy="139.49" r="1.5"/><circle cx="350.31" cy="138.22" r="1.5"/><circle cx="351.05" cy="137.68" r="1.5"/><circle cx="351.79" cy="136.79" r="1.5"/><circle cx="352.53" cy="136.96" r="1.5"/><circle cx="353.26" cy="134.72" r="1.5"/><circle cx="354.00" cy="135.35" r="1.5"/><circle cx="354.74" cy="134.80" r="1.5"/><circle cx="355.48" cy="132.76" r="1.5"/><circle cx="356.22" cy="133.41" r="1.5"/><circle cx="356.95" cy="132.13" r="1.5"/><circle cx="357.69" cy="131.47" r="1.5"/><circle cx="358.43" cy="129.23" r="1.5"/><circle cx="359.17" cy="128.09" r="1.5"/><circle cx="359.91" cy="126.67" r="1.5"/><circle cx="360.64" cy="126.12" r="1.5"/><circle cx="361.38" cy="123.55" r="1.5"/><circle cx="362.12" cy="121.09" r="1.5"/><circle cx="362.86" cy="118.93" r="1.5"/><circle cx="363.60" cy="116.13" r="1.5"/><circle cx="364.33" cy="112.90" r="1.5"/><circle cx="365.07" cy="109.88" r="1.5"/><circle cx="365.81" cy="107.75" r="1.5"/><circle cx="366.55" cy="102.97" r="1.5"/><circle cx="367.29" cy="99.99" r="1.5"/><circle cx="368.02" cy="94.27" r="1.5"/><circle cx="368.76" cy="89.50" r="1.5"/><circle cx="369.50" cy="84.86" r="1.5"/><circle cx="370.24" cy="78.99" r="1.5"/><circle cx="370.98" cy="73.88" r="1.5"/><circle cx="371.71" cy="69.42" r="1.5"/><circle cx="372.45" cy="63.82" r="1.5"/><circle cx="373.19" cy="58.36" r="1.5"/><circle cx="373.93" cy="52.95" r="1.5"/><circle cx="374.67" cy="48.73" r="1.5"/><circle cx="375.40" cy="44.52" r="1.5"/><circle cx="376.14" cy="40.12" r="1.5"/><circle cx="376.88" cy="37.41" r="1.5"/><circle cx="377.62" cy="33.92" r="1.5"/><circle cx="378.36" cy="33.69" r="1.5"/><circle cx="379.09" cy="32.59" r="1.5"/><circle cx="379.83" cy="33.41" r="1.5"/><circle cx="380.57" cy="34.39" r="1.5"/><circle cx="381.31" cy="35.79" r="1.5"/><circle cx="382.05" cy="38.22" r="1.5"/><circle cx="382.78" cy="43.40" r="1.5"/><circle cx="383.52" cy="46.23" r="1.5"/><circle cx="384.26" cy="51.70" r="1.5"/><circle cx="385.00" cy="56.80" r="1.5"/><circle cx="385.74" cy="62.43" r="1.5"/><circle cx="386.47" cy="69.22" r="1.5"/><circle cx="387.21" cy="75.83" r="1.5"/><circle cx="387.95" cy="80.82" r="1.5"/><circle cx="388.69" cy="87.83" r="1.5"/><circle cx="389.43" cy="93.43" r="1.5"/><circle cx="390.16" cy="99.99" r="1.5"/><circle cx="390.90" cy="105.62" r="1.5"/><circle cx="391.64" cy="110.88" r="1.5"/><circle cx="392.38" cy="116.27" r="1.5"/><circle cx="393.12" cy="121.44" r="1.5"/><circle cx="393.85" cy="127.45" r="1.5"/><circle cx="394.59" cy="131.11" r="1.5"/><circle cx="395.33" cy="134.66" r="1.5"/><circle cx="396.07" cy="139.58" r="1.5"/><circle cx="396.81" cy="143.08" r="1.5"/><circle cx="397.54" cy="145.10" r="1.5"/><circle cx="398.28" cy="147.22" r="1.5"/><circle cx="399.02" cy="149.69" r="1.5"/><circle cx="399.76" cy="151.60" r="1.5"/><circle cx="400.50" cy="153.88" r="1.5"/><circle cx="401.23" cy="155.02" r="1.5"/><circle cx="401.97" cy="156.66" r="1.5"/><circle cx="402.71" cy="157.88" r="1.5"/><circle cx="403.45" cy="159.46" r="1.5"/><circle cx="404.19" cy="160.89" r="1.5"/><circle cx="404.92" cy="161.38" r="1.5"/><circle cx="405.66" cy="161.40" r="1.5"/><circle cx="406.40" cy="161.93" r="1.5"/><circle cx="407.14" cy="162.57" r="1.5"/><circle cx="407.88" cy="162.69" r="1.5"/><circle cx="408.61" cy="162.93" r="1.5"/><circle cx="409.35" cy="162.71" r="1.5"/><circle cx="410.09" cy="163.32" r="1.5"/><circle cx="410.83" cy="164.76" r="1.5"/><circle cx="411.57" cy="163.41" r="1.5"/><circle cx="412.30" cy="164.24" r="1.5"/><circle cx="413.04" cy="164.59" r="1.5"/><circle cx="413.78" cy="165.12" r="1.5"/><circle cx="414.52" cy="164.05" r="1.5"/><circle cx="415.26" cy="164.24" r="1.5"/><circle cx="415.99" cy="164.28" r="1.5"/><circle cx="416.73" cy="164.62" r="1.5"/><circle cx="417.47" cy="164.77" r="1.5"/><circle cx="418.21" cy="165.74" r="1.5"/><circle cx="418.95" cy="165.61" r="1.5"/><circle cx="419.68" cy="165.70" r="1.5"/><circle cx="420.42" cy="164.22" r="1.5"/><circle cx="421.16" cy="164.29" r="1.5"/><circle cx="421.90" cy="165.55" r="1.5"/><circle cx="422.64" cy="165.92" r="1.5"/><circle cx="423.37" cy="165.20" r="1.5"/><circle cx="424.11" cy="165.44" r="1.5"/><circle cx="424.85" cy="164.42" r="1.5"/><circle cx="425.59" cy="165.16" r="1.5"/><circle cx="426.33" cy="166.15" r="1.5"/><circle cx="427.06" cy="166.00" r="1.5"/><circle cx="427.80" cy="166.09" r="1.5"/><circle cx="428.54" cy="166.32" r="1.5"/><circle cx="429.28" cy="165.05" r="1.5"/><circle cx="430.02" cy="164.82" r="1.5"/><circle cx="430.75" cy="164.93" r="1.5"/><circle cx="431.49" cy="165.61" r="1.5"/><circle cx="432.23" cy="165.92" r="1.5"/><circle cx="432.97" cy="166.41" r="1.5"/><circle cx="433.71" cy="166.04" r="1.5"/><circle cx="434.44" cy="165.92" r="1.5"/><circle cx="435.18" cy="166.15" r="1.5"/><circle cx="435.92" cy="165.62" r="1.5"/><circle cx="436.66" cy="165.80" r="1.5"/><circle cx="437.40" cy="164.90" r="1.5"/><circle cx="438.13" cy="166.25" r="1.5"/><circle cx="438.87" cy="165.28" r="1.5"/><circle cx="439.61" cy="166.53" r="1.5"/><circle cx="440.35" cy="166.05" r="1.5"/><circle cx="441.09" cy="165.45" r="1.5"/><circle cx="441.82" cy="165.15" r="1.5"/><circle cx="442.56" cy="165.39" r="1.5"/><circle cx="443.30" cy="166.09" r="1.5"/><circle cx="444.04" cy="166.21" r="1.5"/><circle cx="444.78" cy="165.17" r="1.5"/><circle cx="445.51" cy="165.11" r="1.5"/><circle cx="446.25" cy="165.94" r="1.5"/><circle cx="446.99" cy="166.05" r="1.5"/>
</g>
<path d="M256.00 164.28 L256.50 164.28 L257.00 164.28 L257.50 164.28 L258.00 164.27 L258.50 164.27 L259.00 164.27 L259.50 164.26 L260.00 164.26 L260.50 164.25 L261.00 164.25 L261.50 164.24 L262.00 164.23 L262.50 164.23 L263.00 164.22 L263.50 164.21 L264.00 164.20 L264.50 164.18 L265.00 164.17 L265.50 164.16 L266.00 164.14 L266.50 164.12 L267.00 164.10 L267.50 164.08 L268.00 164.06 L268.50 164.03 L269.00 164.01 L269.50 163.98 L270.00 163.94 L270.50 163.91 L271.00 163.87 L271.50 163.83 L272.00 163.78 L272.50 163.73 L273.00 163.68 L273.50 163.62 L274.00 163.56 L274.50 163.49 L275.00 163.41 L275.50 163.34 L276.00 163.25 L276.50 163.16 L277.00 163.07 L277.50 162.96 L278.00 162.85 L278.50 162.74 L279.00 162.61 L279.50 162.48 L280.00 162.34 L280.50 162.19 L281.00 162.03 L281.50 161.87 L282.00 161.69 L282.50 161.51 L283.00 161.31 L283.50 161.11 L284.00 160.89 L284.50 160.67 L285.00 160.43 L285.50 160.19 L286.00 159.93 L286.50 159.66 L287.00 159.38 L287.50 159.09 L288.00 158.79 L288.50 158.48 L289.00 158.16 L289.50 157.83 L290.00 157.49 L290.50 157.14 L291.00 156.77 L291.50 156.40 L292.00 156.02 L292.50 155.64 L293.00 155.24 L293.50 154.84 L294.00 154.43 L294.50 154.01 L295.00 153.59 L295.50 153.17 L296.00 152.74 L296.50 152.31 L297.00 151.88 L297.50 151.44 L298.00 151.01 L298.50 150.57 L299.00 150.14 L299.50 149.71 L300.00 149.29 L300.50 148.87 L301.00 148.46 L301.50 148.06 L302.00 147.66 L302.50 147.27 L303.00 146.90 L303.50 146.54 L304.00 146.18 L304.50 145.85 L305.00 145.53 L305.50 145.22 L306.00 144.94 L306.50 144.67 L307.00 144.42 L307.50 144.19 L308.00 143.98 L308.50 143.79 L309.00 143.62 L309.50 143.48 L310.00 143.35 L310.50 143.26 L311.00 143.18 L311.50 143.13 L312.00 143.10 L312.50 143.10 L313.00 143.12 L313.50 143.17 L314.00 143.24 L314.50 143.33 L315.00 143.45 L315.50 143.59 L316.00 143.75 L316.50 143.93 L317.00 144.14 L317.50 144.36 L318.00 144.61 L318.50 144.87 L319.00 145.16 L319.50 145.46 L320.00 145.77 L320.50 146.10 L321.00 146.45 L321.50 146.80 L322.00 147.17 L322.50 147.55 L323.00 147.94 L323.50 148.33 L324.00 148.73 L324.50 149.14 L325.00 149.54 L325.50 149.95 L326.00 150.36 L326.50 150.77 L327.00 151.18 L327.50 151.57 L328.00 151.97 L328.50 152.35 L329.00 152.72 L329.50 153.08 L330.00 153.42 L330.50 153.75 L331.00 154.06 L331.50 154.34 L332.00 154.60 L332.50 154.83 L333.00 155.04 L333.50 155.21 L334.00 155.35 L334.50 155.45 L335.00 155.52 L335.50 155.54 L336.00 155.52 L336.50 155.45 L337.00 155.33 L337.50 155.17 L338.00 154.96 L338.50 154.69 L339.00 154.37 L339.50 154.01 L340.00 153.59 L340.50 153.11 L341.00 152.59 L341.50 152.03 L342.00 151.41 L342.50 150.76 L343.00 150.07 L343.50 149.34 L344.00 148.58 L344.50 147.80 L345.00 147.01 L345.50 146.19 L346.00 145.38 L346.50 144.56 L347.00 143.74 L347.50 142.94 L348.00 142.16 L348.50 141.39 L349.00 140.65 L349.50 139.95 L350.00 139.27 L350.50 138.63 L351.00 138.02 L351.50 137.44 L352.00 136.89 L352.50 136.37 L353.00 135.87 L353.50 135.38 L354.00 134.90 L354.50 134.42 L355.00 133.93 L355.50 133.42 L356.00 132.88 L356.50 132.31 L357.00 131.69 L357.50 131.02 L358.00 130.29 L358.50 129.49 L359.00 128.62 L359.50 127.68 L360.00 126.66 L360.50 125.55 L361.00 124.36 L361.50 123.07 L362.00 121.69 L362.50 120.20 L363.00 118.59 L363.50 116.87 L364.00 115.02 L364.50 113.04 L365.00 110.91 L365.50 108.63 L366.00 106.20 L366.50 103.61 L367.00 100.85 L367.50 97.94 L368.00 94.87 L368.50 91.66 L369.00 88.31 L369.50 84.84 L370.00 81.27 L370.50 77.62 L371.00 73.92 L371.50 70.19 L372.00 66.47 L372.50 62.77 L373.00 59.15 L373.50 55.62 L374.00 52.23 L374.50 49.01 L375.00 45.99 L375.50 43.21 L376.00 40.69 L376.50 38.48 L377.00 36.59 L377.50 35.04 L378.00 33.87 L378.50 33.09 L379.00 32.70 L379.50 32.72 L380.00 33.15 L380.50 33.99 L381.00 35.22 L381.50 36.84 L382.00 38.83 L382.50 41.16 L383.00 43.82 L383.50 46.77 L384.00 49.99 L384.50 53.44 L385.00 57.10 L385.50 60.94 L386.00 64.91 L386.50 69.01 L387.00 73.19 L387.50 77.42 L388.00 81.68 L388.50 85.95 L389.00 90.20 L389.50 94.41 L390.00 98.55 L390.50 102.61 L391.00 106.58 L391.50 110.43 L392.00 114.16 L392.50 117.75 L393.00 121.19 L393.50 124.48 L394.00 127.62 L394.50 130.59 L395.00 133.40 L395.50 136.04 L396.00 138.53 L396.50 140.85 L397.00 143.01 L397.50 145.02 L398.00 146.88 L398.50 148.60 L399.00 150.18 L399.50 151.63 L400.00 152.96 L400.50 154.17 L401.00 155.27 L401.50 156.27 L402.00 157.18 L402.50 158.00 L403.00 158.73 L403.50 159.40 L404.00 159.99 L404.50 160.53 L405.00 161.00 L405.50 161.43 L406.00 161.81 L406.50 162.15 L407.00 162.45 L407.50 162.72 L408.00 162.96 L408.50 163.18 L409.00 163.37 L409.50 163.54 L410.00 163.70 L410.50 163.84 L411.00 163.96 L411.50 164.07 L412.00 164.17 L412.50 164.27 L413.00 164.35 L413.50 164.43 L414.00 164.50 L414.50 164.56 L415.00 164.62 L415.50 164.68 L416.00 164.73 L416.50 164.78 L417.00 164.83 L417.50 164.87 L418.00 164.91 L418.50 164.95 L419.00 164.99 L419.50 165.02 L420.00 165.05 L420.50 165.09 L421.00 165.12 L421.50 165.15 L422.00 165.18 L422.50 165.20 L423.00 165.23 L423.50 165.26 L424.00 165.28 L424.50 165.31 L425.00 165.33 L425.50 165.35 L426.00 165.37 L426.50 165.39 L427.00 165.41 L427.50 165.43 L428.00 165.45 L428.50 165.47 L429.00 165.49 L429.50 165.51 L430.00 165.52 L430.50 165.54 L431.00 165.56 L431.50 165.57 L432.00 165.59 L432.50 165.60 L433.00 165.62 L433.50 165.63 L434.00 165.64 L434.50 165.66 L435.00 165.67 L435.50 165.68 L436.00 165.70 L436.50 165.71 L437.00 165.72 L437.50 165.73 L438.00 165.74 L438.50 165.75 L439.00 165.76 L439.50 165.77 L440.00 165.78 L440.50 165.79 L441.00 165.80 L441.50 165.81 L442.00 165.82 L442.50 165.83 L443.00 165.84 L443.50 165.85 L444.00 165.86 L444.50 165.86 L445.00 165.87 L445.50 165.88 L446.00 165.89 L446.50 165.90 L447.00 165.90 L447.50 165.91 L448.00 165.92 L448.50 165.92 L449.00 165.93" stroke="#b0b0b0" stroke-width="0.8" fill="none" stroke-linejoin="round" />
<text x="256.60" y="29.40" font-size="10" text-anchor="start" fill="#1a1a1a" stroke="#1a1a1a" stroke-width="0.06" >C1s</text>
<circle cx="264.2" cy="37.6" r="2.0" fill="url(#sphL)" stroke="#222" stroke-width="0.4"/>
<text x="274.70" y="40.60" font-size="10.5" text-anchor="start" fill="#1a1a1a" stroke="#1a1a1a" stroke-width="0.06" >Original</text>
<path d="M256.7 50.5H271.7" stroke="#e83a3a" stroke-width="1.1"/>
<text x="274.70" y="54.10" font-size="10.5" text-anchor="start" fill="#1a1a1a" stroke="#1a1a1a" stroke-width="0.06" >284.8 eV</text>
<path d="M256.7 63.1H271.7" stroke="#1f1fe6" stroke-width="1.1"/>
<text x="274.70" y="66.70" font-size="10.5" text-anchor="start" fill="#1a1a1a" stroke="#1a1a1a" stroke-width="0.06" >286.2 eV</text>
<path d="M256.7 76.2H271.7" stroke="#3cb44b" stroke-width="1.1"/>
<text x="274.70" y="79.80" font-size="10.5" text-anchor="start" fill="#1a1a1a" stroke="#1a1a1a" stroke-width="0.06" >288.4 eV</text>
<path d="M256.7 89.2H271.7" stroke="#b8b8b8" stroke-width="1.1"/>
<text x="274.70" y="92.80" font-size="10.5" text-anchor="start" fill="#1a1a1a" stroke="#1a1a1a" stroke-width="0.06" >Fitting</text>
<text x="388.80" y="45.80" font-size="10" text-anchor="start" fill="#e8292b" stroke="#e8292b" stroke-width="0.06" >C-C/C=C</text>
<text x="334.70" y="130.80" font-size="10" text-anchor="start" fill="#2525e0" stroke="#2525e0" stroke-width="0.06" >C-O</text>
<text x="300.30" y="134.20" font-size="10" text-anchor="start" fill="#3aae4a" stroke="#3aae4a" stroke-width="0.06" >C=O</text>
</g>
<g>
<text x="465.60" y="14.50" font-size="18.5" text-anchor="start" fill="#1a1a1a" stroke="#1a1a1a" stroke-width="0.06" >c</text>
<rect x="487.80" y="19.00" width="192.00" height="153.30" fill="none" stroke="#555555" stroke-width="1.1"/>
<path d="M679.58 172.30v1.8M652.22 172.30v3.2M624.86 172.30v1.8M597.50 172.30v3.2M570.14 172.30v1.8M542.78 172.30v3.2M515.42 172.30v1.8M488.06 172.30v3.2" stroke="#555555" stroke-width="1.1" fill="none"/>
<text x="488.06" y="185.80" font-size="10" text-anchor="middle" fill="#1a1a1a" stroke="#1a1a1a" stroke-width="0.06" >540</text>
<text x="542.78" y="185.80" font-size="10" text-anchor="middle" fill="#1a1a1a" stroke="#1a1a1a" stroke-width="0.06" >536</text>
<text x="597.50" y="185.80" font-size="10" text-anchor="middle" fill="#1a1a1a" stroke="#1a1a1a" stroke-width="0.06" >532</text>
<text x="652.22" y="185.80" font-size="10" text-anchor="middle" fill="#1a1a1a" stroke="#1a1a1a" stroke-width="0.06" >528</text>
<text x="583.80" y="203.80" font-size="13.3" text-anchor="middle" fill="#1a1a1a" stroke="#1a1a1a" stroke-width="0.06" >Binding energy (eV)</text>
<path d="M488.80 156.60 L489.30 156.60 L489.80 156.60 L490.30 156.60 L490.80 156.60 L491.30 156.60 L491.80 156.60 L492.30 156.60 L492.80 156.60 L493.30 156.60 L493.80 156.60 L494.30 156.60 L494.80 156.60 L495.30 156.60 L495.80 156.60 L496.30 156.60 L496.80 156.60 L497.30 156.60 L497.80 156.60 L498.30 156.60 L498.80 156.60 L499.30 156.60 L499.80 156.60 L500.30 156.60 L500.80 156.60 L501.30 156.60 L501.80 156.60 L502.30 156.60 L502.80 156.60 L503.30 156.60 L503.80 156.60 L504.30 156.60 L504.80 156.60 L505.30 156.60 L505.80 156.60 L506.30 156.60 L506.80 156.60 L507.30 156.60 L507.80 156.60 L508.30 156.60 L508.80 156.60 L509.30 156.60 L509.80 156.60 L510.30 156.60 L510.80 156.60 L511.30 156.60 L511.80 156.60 L512.30 156.60 L512.80 156.60 L513.30 156.60 L513.80 156.60 L514.30 156.60 L514.80 156.60 L515.30 156.60 L515.80 156.60 L516.30 156.60 L516.80 156.60 L517.30 156.60 L517.80 156.60 L518.30 156.60 L518.80 156.60 L519.30 156.60 L519.80 156.60 L520.30 156.60 L520.80 156.60 L521.30 156.60 L521.80 156.60 L522.30 156.60 L522.80 156.60 L523.30 156.60 L523.80 156.60 L524.30 156.60 L524.80 156.60 L525.30 156.60 L525.80 156.60 L526.30 156.60 L526.80 156.60 L527.30 156.60 L527.80 156.60 L528.30 156.60 L528.80 156.60 L529.30 156.60 L529.80 156.60 L530.30 156.60 L530.80 156.60 L531.30 156.60 L531.80 156.60 L532.30 156.60 L532.80 156.60 L533.30 156.60 L533.80 156.60 L534.30 156.60 L534.80 156.60 L535.30 156.60 L535.80 156.60 L536.30 156.60 L536.80 156.60 L537.30 156.60 L537.80 156.60 L538.30 156.60 L538.80 156.60 L539.30 156.60 L539.80 156.60 L540.30 156.60 L540.80 156.60 L541.30 156.60 L541.80 156.60 L542.30 156.60 L542.80 156.60 L543.30 156.60 L543.80 156.59 L544.30 156.59 L544.80 156.59 L545.30 156.59 L545.80 156.59 L546.30 156.58 L546.80 156.58 L547.30 156.58 L547.80 156.57 L548.30 156.57 L548.80 156.57 L549.30 156.56 L549.80 156.55 L550.30 156.55 L550.80 156.54 L551.30 156.53 L551.80 156.52 L552.30 156.51 L552.80 156.49 L553.30 156.48 L553.80 156.46 L554.30 156.44 L554.80 156.42 L555.30 156.40 L555.80 156.37 L556.30 156.35 L556.80 156.31 L557.30 156.28 L557.80 156.24 L558.30 156.20 L558.80 156.15 L559.30 156.10 L559.80 156.04 L560.30 155.98 L560.80 155.91 L561.30 155.83 L561.80 155.75 L562.30 155.66 L562.80 155.56 L563.30 155.45 L563.80 155.33 L564.30 155.20 L564.80 155.06 L565.30 154.91 L565.80 154.75 L566.30 154.57 L566.80 154.38 L567.30 154.17 L567.80 153.95 L568.30 153.72 L568.80 153.46 L569.30 153.19 L569.80 152.90 L570.30 152.59 L570.80 152.26 L571.30 151.91 L571.80 151.53 L572.30 151.14 L572.80 150.71 L573.30 150.27 L573.80 149.80 L574.30 149.30 L574.80 148.78 L575.30 148.23 L575.80 147.66 L576.30 147.05 L576.80 146.42 L577.30 145.76 L577.80 145.07 L578.30 144.36 L578.80 143.61 L579.30 142.84 L579.80 142.04 L580.30 141.22 L580.80 140.37 L581.30 139.49 L581.80 138.58 L582.30 137.66 L582.80 136.71 L583.30 135.74 L583.80 134.75 L584.30 133.74 L584.80 132.71 L585.30 131.67 L585.80 130.62 L586.30 129.56 L586.80 128.49 L587.30 127.41 L587.80 126.33 L588.30 125.25 L588.80 124.17 L589.30 123.10 L589.80 122.04 L590.30 120.99 L590.80 119.95 L591.30 118.93 L591.80 117.93 L592.30 116.96 L592.80 116.01 L593.30 115.09 L593.80 114.21 L594.30 113.36 L594.80 112.55 L595.30 111.78 L595.80 111.06 L596.30 110.39 L596.80 109.77 L597.30 109.20 L597.80 108.68 L598.30 108.22 L598.80 107.82 L599.30 107.48 L599.80 107.21 L600.30 106.99 L600.80 106.84 L601.30 106.76 L601.80 106.74 L602.30 106.78 L602.80 106.90 L603.30 107.07 L603.80 107.32 L604.30 107.62 L604.80 108.00 L605.30 108.43 L605.80 108.92 L606.30 109.48 L606.80 110.09 L607.30 110.75 L607.80 111.47 L608.30 112.24 L608.80 113.06 L609.30 113.93 L609.80 114.83 L610.30 115.78 L610.80 116.77 L611.30 117.78 L611.80 118.83 L612.30 119.91 L612.80 121.01 L613.30 122.13 L613.80 123.27 L614.30 124.42 L614.80 125.59 L615.30 126.76 L615.80 127.94 L616.30 129.12 L616.80 130.30 L617.30 131.48 L617.80 132.65 L618.30 133.82 L618.80 134.97 L619.30 136.11 L619.80 137.23 L620.30 138.33 L620.80 139.42 L621.30 140.49 L621.80 141.53 L622.30 142.55 L622.80 143.54 L623.30 144.51 L623.80 145.44 L624.30 146.36 L624.80 147.24 L625.30 148.09 L625.80 148.91 L626.30 149.71 L626.80 150.47 L627.30 151.20 L627.80 151.90 L628.30 152.57 L628.80 153.22 L629.30 153.83 L629.80 154.41 L630.30 154.97 L630.80 155.50 L631.30 156.00 L631.80 156.47 L632.30 156.92 L632.80 157.34 L633.30 157.74 L633.80 158.12 L634.30 158.47 L634.80 158.81 L635.30 159.12 L635.80 159.41 L636.30 159.68 L636.80 159.94 L637.30 160.17 L637.80 160.39 L638.30 160.60 L638.80 160.79 L639.30 160.97 L639.80 161.13 L640.30 161.28 L640.80 161.42 L641.30 161.55 L641.80 161.67 L642.30 161.78 L642.80 161.88 L643.30 161.97 L643.80 162.06 L644.30 162.14 L644.80 162.21 L645.30 162.27 L645.80 162.33 L646.30 162.38 L646.80 162.43 L647.30 162.48 L647.80 162.52 L648.30 162.56 L648.80 162.59 L649.30 162.62 L649.80 162.65 L650.30 162.67 L650.80 162.69 L651.30 162.71 L651.80 162.73 L652.30 162.75 L652.80 162.76 L653.30 162.78 L653.80 162.79 L654.30 162.80 L654.80 162.81 L655.30 162.82 L655.80 162.83 L656.30 162.83 L656.80 162.84 L657.30 162.85 L657.80 162.85 L658.30 162.85 L658.80 162.86 L659.30 162.86 L659.80 162.87 L660.30 162.87 L660.80 162.87 L661.30 162.87 L661.80 162.88 L662.30 162.88 L662.80 162.88 L663.30 162.88 L663.80 162.88 L664.30 162.88 L664.80 162.89 L665.30 162.89 L665.80 162.89 L666.30 162.89 L666.80 162.89 L667.30 162.89 L667.80 162.89 L668.30 162.89 L668.80 162.89 L669.30 162.89 L669.80 162.89 L670.30 162.89 L670.80 162.89 L671.30 162.89 L671.80 162.89 L672.30 162.89 L672.80 162.90 L673.30 162.90 L673.80 162.90 L674.30 162.90 L674.80 162.90 L675.30 162.90 L675.80 162.90 L676.30 162.90 L676.80 162.90 L677.30 162.90 L677.80 162.90 L678.30 162.90 L678.80 162.90 L679.30 162.90" stroke="#e8302a" stroke-width="1.2" fill="none" stroke-linejoin="round" />
<path d="M488.80 156.60 L489.30 156.60 L489.80 156.60 L490.30 156.60 L490.80 156.60 L491.30 156.60 L491.80 156.60 L492.30 156.60 L492.80 156.60 L493.30 156.60 L493.80 156.60 L494.30 156.60 L494.80 156.60 L495.30 156.60 L495.80 156.60 L496.30 156.60 L496.80 156.60 L497.30 156.60 L497.80 156.60 L498.30 156.60 L498.80 156.60 L499.30 156.60 L499.80 156.60 L500.30 156.60 L500.80 156.60 L501.30 156.60 L501.80 156.60 L502.30 156.60 L502.80 156.60 L503.30 156.60 L503.80 156.60 L504.30 156.60 L504.80 156.60 L505.30 156.60 L505.80 156.60 L506.30 156.60 L506.80 156.60 L507.30 156.60 L507.80 156.60 L508.30 156.60 L508.80 156.60 L509.30 156.60 L509.80 156.59 L510.30 156.59 L510.80 156.59 L511.30 156.59 L511.80 156.59 L512.30 156.59 L512.80 156.58 L513.30 156.58 L513.80 156.57 L514.30 156.57 L514.80 156.56 L515.30 156.56 L515.80 156.55 L516.30 156.54 L516.80 156.53 L517.30 156.52 L517.80 156.51 L518.30 156.49 L518.80 156.47 L519.30 156.46 L519.80 156.43 L520.30 156.41 L520.80 156.38 L521.30 156.34 L521.80 156.31 L522.30 156.27 L522.80 156.22 L523.30 156.17 L523.80 156.11 L524.30 156.04 L524.80 155.97 L525.30 155.89 L525.80 155.80 L526.30 155.70 L526.80 155.60 L527.30 155.48 L527.80 155.35 L528.30 155.21 L528.80 155.05 L529.30 154.89 L529.80 154.71 L530.30 154.52 L530.80 154.31 L531.30 154.09 L531.80 153.85 L532.30 153.59 L532.80 153.33 L533.30 153.04 L533.80 152.74 L534.30 152.42 L534.80 152.09 L535.30 151.74 L535.80 151.37 L536.30 150.99 L536.80 150.60 L537.30 150.19 L537.80 149.77 L538.30 149.34 L538.80 148.90 L539.30 148.46 L539.80 148.00 L540.30 147.54 L540.80 147.08 L541.30 146.62 L541.80 146.16 L542.30 145.70 L542.80 145.25 L543.30 144.81 L543.80 144.38 L544.30 143.96 L544.80 143.55 L545.30 143.17 L545.80 142.80 L546.30 142.45 L546.80 142.13 L547.30 141.84 L547.80 141.57 L548.30 141.33 L548.80 141.13 L549.30 140.96 L549.80 140.82 L550.30 140.71 L550.80 140.65 L551.30 140.61 L551.80 140.62 L552.30 140.66 L552.80 140.74 L553.30 140.85 L553.80 140.99 L554.30 141.17 L554.80 141.39 L555.30 141.63 L555.80 141.91 L556.30 142.21 L556.80 142.54 L557.30 142.89 L557.80 143.26 L558.30 143.65 L558.80 144.06 L559.30 144.49 L559.80 144.92 L560.30 145.37 L560.80 145.82 L561.30 146.28 L561.80 146.75 L562.30 147.21 L562.80 147.67 L563.30 148.13 L563.80 148.59 L564.30 149.04 L564.80 149.48 L565.30 149.91 L565.80 150.33 L566.30 150.74 L566.80 151.13 L567.30 151.51 L567.80 151.88 L568.30 152.23 L568.80 152.56 L569.30 152.88 L569.80 153.19 L570.30 153.47 L570.80 153.75 L571.30 154.00 L571.80 154.24 L572.30 154.47 L572.80 154.68 L573.30 154.88 L573.80 155.06 L574.30 155.23 L574.80 155.39 L575.30 155.54 L575.80 155.67 L576.30 155.80 L576.80 155.91 L577.30 156.02 L577.80 156.12 L578.30 156.21 L578.80 156.29 L579.30 156.37 L579.80 156.44 L580.30 156.51 L580.80 156.57 L581.30 156.62 L581.80 156.68 L582.30 156.73 L582.80 156.77 L583.30 156.82 L583.80 156.86 L584.30 156.90 L584.80 156.94 L585.30 156.98 L585.80 157.02 L586.30 157.05 L586.80 157.09 L587.30 157.13 L587.80 157.16 L588.30 157.20 L588.80 157.24 L589.30 157.28 L589.80 157.32 L590.30 157.36 L590.80 157.40 L591.30 157.44 L591.80 157.48 L592.30 157.53 L592.80 157.58 L593.30 157.62 L593.80 157.67 L594.30 157.72 L594.80 157.78 L595.30 157.83 L595.80 157.89 L596.30 157.95 L596.80 158.01 L597.30 158.07 L597.80 158.13 L598.30 158.20 L598.80 158.27 L599.30 158.34 L599.80 158.41 L600.30 158.48 L600.80 158.55 L601.30 158.63 L601.80 158.71 L602.30 158.78 L602.80 158.86 L603.30 158.95 L603.80 159.03 L604.30 159.11 L604.80 159.20 L605.30 159.28 L605.80 159.37 L606.30 159.45 L606.80 159.54 L607.30 159.63 L607.80 159.71 L608.30 159.80 L608.80 159.89 L609.30 159.98 L609.80 160.06 L610.30 160.15 L610.80 160.24 L611.30 160.32 L611.80 160.41 L612.30 160.49 L612.80 160.57 L613.30 160.65 L613.80 160.73 L614.30 160.81 L614.80 160.89 L615.30 160.96 L615.80 161.04 L616.30 161.11 L616.80 161.18 L617.30 161.25 L617.80 161.31 L618.30 161.38 L618.80 161.44 L619.30 161.50 L619.80 161.56 L620.30 161.62 L620.80 161.68 L621.30 161.73 L621.80 161.78 L622.30 161.83 L622.80 161.88 L623.30 161.93 L623.80 161.97 L624.30 162.01 L624.80 162.06 L625.30 162.10 L625.80 162.13 L626.30 162.17 L626.80 162.21 L627.30 162.24 L627.80 162.27 L628.30 162.30 L628.80 162.33 L629.30 162.36 L629.80 162.39 L630.30 162.41 L630.80 162.44 L631.30 162.46 L631.80 162.48 L632.30 162.50 L632.80 162.52 L633.30 162.54 L633.80 162.56 L634.30 162.58 L634.80 162.59 L635.30 162.61 L635.80 162.63 L636.30 162.64 L636.80 162.65 L637.30 162.67 L637.80 162.68 L638.30 162.69 L638.80 162.70 L639.30 162.71 L639.80 162.72 L640.30 162.73 L640.80 162.74 L641.30 162.75 L641.80 162.76 L642.30 162.76 L642.80 162.77 L643.30 162.78 L643.80 162.78 L644.30 162.79 L644.80 162.80 L645.30 162.80 L645.80 162.81 L646.30 162.81 L646.80 162.82 L647.30 162.82 L647.80 162.83 L648.30 162.83 L648.80 162.83 L649.30 162.84 L649.80 162.84 L650.30 162.84 L650.80 162.85 L651.30 162.85 L651.80 162.85 L652.30 162.85 L652.80 162.86 L653.30 162.86 L653.80 162.86 L654.30 162.86 L654.80 162.87 L655.30 162.87 L655.80 162.87 L656.30 162.87 L656.80 162.87 L657.30 162.87 L657.80 162.88 L658.30 162.88 L658.80 162.88 L659.30 162.88 L659.80 162.88 L660.30 162.88 L660.80 162.88 L661.30 162.88 L661.80 162.88 L662.30 162.88 L662.80 162.89 L663.30 162.89 L663.80 162.89 L664.30 162.89 L664.80 162.89 L665.30 162.89 L665.80 162.89 L666.30 162.89 L666.80 162.89 L667.30 162.89 L667.80 162.89 L668.30 162.89 L668.80 162.89 L669.30 162.89 L669.80 162.89 L670.30 162.89 L670.80 162.89 L671.30 162.89 L671.80 162.89 L672.30 162.90 L672.80 162.90 L673.30 162.90 L673.80 162.90 L674.30 162.90 L674.80 162.90 L675.30 162.90 L675.80 162.90 L676.30 162.90 L676.80 162.90 L677.30 162.90 L677.80 162.90 L678.30 162.90 L678.80 162.90 L679.30 162.90" stroke="#3535e8" stroke-width="1.2" fill="none" stroke-linejoin="round" />
<path d="M488.80 156.60 L489.30 156.60 L489.80 156.60 L490.30 156.60 L490.80 156.60 L491.30 156.60 L491.80 156.60 L492.30 156.60 L492.80 156.60 L493.30 156.60 L493.80 156.60 L494.30 156.60 L494.80 156.60 L495.30 156.60 L495.80 156.60 L496.30 156.60 L496.80 156.60 L497.30 156.60 L497.80 156.60 L498.30 156.60 L498.80 156.60 L499.30 156.60 L499.80 156.60 L500.30 156.60 L500.80 156.60 L501.30 156.60 L501.80 156.60 L502.30 156.60 L502.80 156.60 L503.30 156.60 L503.80 156.60 L504.30 156.60 L504.80 156.60 L505.30 156.60 L505.80 156.60 L506.30 156.60 L506.80 156.60 L507.30 156.60 L507.80 156.60 L508.30 156.60 L508.80 156.60 L509.30 156.60 L509.80 156.60 L510.30 156.60 L510.80 156.60 L511.30 156.60 L511.80 156.60 L512.30 156.60 L512.80 156.60 L513.30 156.60 L513.80 156.60 L514.30 156.60 L514.80 156.60 L515.30 156.60 L515.80 156.60 L516.30 156.60 L516.80 156.60 L517.30 156.60 L517.80 156.60 L518.30 156.60 L518.80 156.60 L519.30 156.60 L519.80 156.60 L520.30 156.60 L520.80 156.60 L521.30 156.60 L521.80 156.60 L522.30 156.60 L522.80 156.60 L523.30 156.60 L523.80 156.60 L524.30 156.60 L524.80 156.60 L525.30 156.60 L525.80 156.60 L526.30 156.60 L526.80 156.60 L527.30 156.60 L527.80 156.60 L528.30 156.60 L528.80 156.60 L529.30 156.60 L529.80 156.60 L530.30 156.60 L530.80 156.60 L531.30 156.60 L531.80 156.60 L532.30 156.60 L532.80 156.60 L533.30 156.60 L533.80 156.60 L534.30 156.60 L534.80 156.60 L535.30 156.60 L535.80 156.60 L536.30 156.60 L536.80 156.60 L537.30 156.60 L537.80 156.60 L538.30 156.60 L538.80 156.60 L539.30 156.60 L539.80 156.60 L540.30 156.60 L540.80 156.60 L541.30 156.60 L541.80 156.60 L542.30 156.60 L542.80 156.60 L543.30 156.60 L543.80 156.61 L544.30 156.61 L544.80 156.61 L545.30 156.61 L545.80 156.61 L546.30 156.61 L546.80 156.61 L547.30 156.61 L547.80 156.61 L548.30 156.61 L548.80 156.61 L549.30 156.61 L549.80 156.61 L550.30 156.61 L550.80 156.61 L551.30 156.61 L551.80 156.61 L552.30 156.61 L552.80 156.61 L553.30 156.61 L553.80 156.62 L554.30 156.62 L554.80 156.62 L555.30 156.62 L555.80 156.62 L556.30 156.62 L556.80 156.62 L557.30 156.62 L557.80 156.62 L558.30 156.63 L558.80 156.63 L559.30 156.63 L559.80 156.63 L560.30 156.63 L560.80 156.63 L561.30 156.63 L561.80 156.64 L562.30 156.64 L562.80 156.64 L563.30 156.64 L563.80 156.65 L564.30 156.65 L564.80 156.65 L565.30 156.65 L565.80 156.66 L566.30 156.66 L566.80 156.66 L567.30 156.67 L567.80 156.67 L568.30 156.68 L568.80 156.68 L569.30 156.68 L569.80 156.69 L570.30 156.69 L570.80 156.70 L571.30 156.70 L571.80 156.71 L572.30 156.72 L572.80 156.72 L573.30 156.73 L573.80 156.74 L574.30 156.74 L574.80 156.75 L575.30 156.76 L575.80 156.77 L576.30 156.78 L576.80 156.79 L577.30 156.80 L577.80 156.81 L578.30 156.82 L578.80 156.82 L579.30 156.83 L579.80 156.84 L580.30 156.85 L580.80 156.86 L581.30 156.87 L581.80 156.87 L582.30 156.87 L582.80 156.87 L583.30 156.87 L583.80 156.86 L584.30 156.85 L584.80 156.83 L585.30 156.80 L585.80 156.76 L586.30 156.71 L586.80 156.65 L587.30 156.56 L587.80 156.46 L588.30 156.33 L588.80 156.18 L589.30 155.99 L589.80 155.77 L590.30 155.50 L590.80 155.19 L591.30 154.82 L591.80 154.39 L592.30 153.90 L592.80 153.32 L593.30 152.67 L593.80 151.92 L594.30 151.08 L594.80 150.13 L595.30 149.06 L595.80 147.87 L596.30 146.55 L596.80 145.10 L597.30 143.51 L597.80 141.77 L598.30 139.89 L598.80 137.86 L599.30 135.68 L599.80 133.35 L600.30 130.88 L600.80 128.28 L601.30 125.56 L601.80 122.72 L602.30 119.78 L602.80 116.75 L603.30 113.67 L603.80 110.54 L604.30 107.40 L604.80 104.25 L605.30 101.15 L605.80 98.10 L606.30 95.15 L606.80 92.31 L607.30 89.62 L607.80 87.11 L608.30 84.80 L608.80 82.72 L609.30 80.90 L609.80 79.36 L610.30 78.11 L610.80 77.17 L611.30 76.55 L611.80 76.27 L612.30 76.32 L612.80 76.70 L613.30 77.42 L613.80 78.46 L614.30 79.81 L614.80 81.46 L615.30 83.39 L615.80 85.58 L616.30 88.00 L616.80 90.64 L617.30 93.45 L617.80 96.41 L618.30 99.50 L618.80 102.68 L619.30 105.92 L619.80 109.20 L620.30 112.49 L620.80 115.76 L621.30 118.99 L621.80 122.16 L622.30 125.25 L622.80 128.23 L623.30 131.10 L623.80 133.85 L624.30 136.46 L624.80 138.93 L625.30 141.25 L625.80 143.42 L626.30 145.43 L626.80 147.30 L627.30 149.01 L627.80 150.59 L628.30 152.02 L628.80 153.32 L629.30 154.49 L629.80 155.54 L630.30 156.49 L630.80 157.32 L631.30 158.07 L631.80 158.72 L632.30 159.30 L632.80 159.80 L633.30 160.24 L633.80 160.62 L634.30 160.95 L634.80 161.24 L635.30 161.48 L635.80 161.69 L636.30 161.87 L636.80 162.02 L637.30 162.15 L637.80 162.25 L638.30 162.35 L638.80 162.42 L639.30 162.49 L639.80 162.54 L640.30 162.59 L640.80 162.62 L641.30 162.66 L641.80 162.68 L642.30 162.71 L642.80 162.73 L643.30 162.74 L643.80 162.76 L644.30 162.77 L644.80 162.78 L645.30 162.79 L645.80 162.80 L646.30 162.80 L646.80 162.81 L647.30 162.82 L647.80 162.82 L648.30 162.83 L648.80 162.83 L649.30 162.84 L649.80 162.84 L650.30 162.84 L650.80 162.85 L651.30 162.85 L651.80 162.85 L652.30 162.85 L652.80 162.86 L653.30 162.86 L653.80 162.86 L654.30 162.86 L654.80 162.87 L655.30 162.87 L655.80 162.87 L656.30 162.87 L656.80 162.87 L657.30 162.87 L657.80 162.88 L658.30 162.88 L658.80 162.88 L659.30 162.88 L659.80 162.88 L660.30 162.88 L660.80 162.88 L661.30 162.88 L661.80 162.88 L662.30 162.88 L662.80 162.89 L663.30 162.89 L663.80 162.89 L664.30 162.89 L664.80 162.89 L665.30 162.89 L665.80 162.89 L666.30 162.89 L666.80 162.89 L667.30 162.89 L667.80 162.89 L668.30 162.89 L668.80 162.89 L669.30 162.89 L669.80 162.89 L670.30 162.89 L670.80 162.89 L671.30 162.89 L671.80 162.89 L672.30 162.90 L672.80 162.90 L673.30 162.90 L673.80 162.90 L674.30 162.90 L674.80 162.90 L675.30 162.90 L675.80 162.90 L676.30 162.90 L676.80 162.90 L677.30 162.90 L677.80 162.90 L678.30 162.90 L678.80 162.90 L679.30 162.90" stroke="#33a02c" stroke-width="1.2" fill="none" stroke-linejoin="round" />
<g fill="url(#sph2)" stroke="#666" stroke-width="0.3">
<circle cx="488.74" cy="155.08" r="1.45"/><circle cx="489.43" cy="154.75" r="1.45"/><circle cx="490.11" cy="155.50" r="1.45"/><circle cx="490.80" cy="154.32" r="1.45"/><circle cx="491.48" cy="154.90" r="1.45"/><circle cx="492.16" cy="155.22" r="1.45"/><circle cx="492.85" cy="156.22" r="1.45"/><circle cx="493.53" cy="155.59" r="1.45"/><circle cx="494.22" cy="156.07" r="1.45"/><circle cx="494.90" cy="155.25" r="1.45"/><circle cx="495.58" cy="154.77" r="1.45"/><circle cx="496.27" cy="154.79" r="1.45"/><circle cx="496.95" cy="156.22" r="1.45"/><circle cx="497.64" cy="155.71" r="1.45"/><circle cx="498.32" cy="154.91" r="1.45"/><circle cx="499.00" cy="154.34" r="1.45"/><circle cx="499.69" cy="155.30" r="1.45"/><circle cx="500.37" cy="155.65" r="1.45"/><circle cx="501.06" cy="155.14" r="1.45"/><circle cx="501.74" cy="154.81" r="1.45"/><circle cx="502.42" cy="155.63" r="1.45"/><circle cx="503.11" cy="156.15" r="1.45"/><circle cx="503.79" cy="154.75" r="1.45"/><circle cx="504.48" cy="154.37" r="1.45"/><circle cx="505.16" cy="154.98" r="1.45"/><circle cx="505.84" cy="155.14" r="1.45"/><circle cx="506.53" cy="155.66" r="1.45"/><circle cx="507.21" cy="154.69" r="1.45"/><circle cx="507.90" cy="155.89" r="1.45"/><circle cx="508.58" cy="155.77" r="1.45"/><circle cx="509.26" cy="155.30" r="1.45"/><circle cx="509.95" cy="154.70" r="1.45"/><circle cx="510.63" cy="156.23" r="1.45"/><circle cx="511.32" cy="154.91" r="1.45"/><circle cx="512.00" cy="155.93" r="1.45"/><circle cx="512.68" cy="154.74" r="1.45"/><circle cx="513.37" cy="154.72" r="1.45"/><circle cx="514.05" cy="155.79" r="1.45"/><circle cx="514.74" cy="154.86" r="1.45"/><circle cx="515.42" cy="156.16" r="1.45"/><circle cx="516.10" cy="155.24" r="1.45"/><circle cx="516.79" cy="154.61" r="1.45"/><circle cx="517.47" cy="154.66" r="1.45"/><circle cx="518.16" cy="155.03" r="1.45"/><circle cx="518.84" cy="155.50" r="1.45"/><circle cx="519.52" cy="156.04" r="1.45"/><circle cx="520.21" cy="154.40" r="1.45"/><circle cx="520.89" cy="154.86" r="1.45"/><circle cx="521.58" cy="154.45" r="1.45"/><circle cx="522.26" cy="155.92" r="1.45"/><circle cx="522.94" cy="154.19" r="1.45"/><circle cx="523.63" cy="153.93" r="1.45"/><circle cx="524.31" cy="153.86" r="1.45"/><circle cx="525.00" cy="154.43" r="1.45"/><circle cx="525.68" cy="155.32" r="1.45"/><circle cx="526.36" cy="155.16" r="1.45"/><circle cx="527.05" cy="154.70" r="1.45"/><circle cx="527.73" cy="155.06" r="1.45"/><circle cx="528.42" cy="154.74" r="1.45"/><circle cx="529.10" cy="153.32" r="1.45"/><circle cx="529.78" cy="152.79" r="1.45"/><circle cx="530.47" cy="154.02" r="1.45"/><circle cx="531.15" cy="153.35" r="1.45"/><circle cx="531.84" cy="151.59" r="1.45"/><circle cx="532.52" cy="152.51" r="1.45"/><circle cx="533.20" cy="151.55" r="1.45"/><circle cx="533.89" cy="151.13" r="1.45"/><circle cx="534.57" cy="150.60" r="1.45"/><circle cx="535.26" cy="149.80" r="1.45"/><circle cx="535.94" cy="148.97" r="1.45"/><circle cx="536.62" cy="149.00" r="1.45"/><circle cx="537.31" cy="148.59" r="1.45"/><circle cx="537.99" cy="149.22" r="1.45"/><circle cx="538.68" cy="146.96" r="1.45"/><circle cx="539.36" cy="148.03" r="1.45"/><circle cx="540.04" cy="145.89" r="1.45"/><circle cx="540.73" cy="145.56" r="1.45"/><circle cx="541.41" cy="145.86" r="1.45"/><circle cx="542.10" cy="145.23" r="1.45"/><circle cx="542.78" cy="143.83" r="1.45"/><circle cx="543.46" cy="142.46" r="1.45"/><circle cx="544.15" cy="142.72" r="1.45"/><circle cx="544.83" cy="141.96" r="1.45"/><circle cx="545.52" cy="142.53" r="1.45"/><circle cx="546.20" cy="140.59" r="1.45"/><circle cx="546.88" cy="140.48" r="1.45"/><circle cx="547.57" cy="141.15" r="1.45"/><circle cx="548.25" cy="139.08" r="1.45"/><circle cx="548.94" cy="139.56" r="1.45"/><circle cx="549.62" cy="140.13" r="1.45"/><circle cx="550.30" cy="139.88" r="1.45"/><circle cx="550.99" cy="138.34" r="1.45"/><circle cx="551.67" cy="138.29" r="1.45"/><circle cx="552.36" cy="138.38" r="1.45"/><circle cx="553.04" cy="140.20" r="1.45"/><circle cx="553.72" cy="139.03" r="1.45"/><circle cx="554.41" cy="140.24" r="1.45"/><circle cx="555.09" cy="140.82" r="1.45"/><circle cx="555.78" cy="140.03" r="1.45"/><circle cx="556.46" cy="140.27" r="1.45"/><circle cx="557.14" cy="142.06" r="1.45"/><circle cx="557.83" cy="141.83" r="1.45"/><circle cx="558.51" cy="141.60" r="1.45"/><circle cx="559.20" cy="143.01" r="1.45"/><circle cx="559.88" cy="142.73" r="1.45"/><circle cx="560.56" cy="143.17" r="1.45"/><circle cx="561.25" cy="143.15" r="1.45"/><circle cx="561.93" cy="145.17" r="1.45"/><circle cx="562.62" cy="145.99" r="1.45"/><circle cx="563.30" cy="145.91" r="1.45"/><circle cx="563.98" cy="146.98" r="1.45"/><circle cx="564.67" cy="145.56" r="1.45"/><circle cx="565.35" cy="146.36" r="1.45"/><circle cx="566.04" cy="147.18" r="1.45"/><circle cx="566.72" cy="148.43" r="1.45"/><circle cx="567.40" cy="148.66" r="1.45"/><circle cx="568.09" cy="147.70" r="1.45"/><circle cx="568.77" cy="147.54" r="1.45"/><circle cx="569.46" cy="147.95" r="1.45"/><circle cx="570.14" cy="148.07" r="1.45"/><circle cx="570.82" cy="148.86" r="1.45"/><circle cx="571.51" cy="147.22" r="1.45"/><circle cx="572.19" cy="148.23" r="1.45"/><circle cx="572.88" cy="147.81" r="1.45"/><circle cx="573.56" cy="147.61" r="1.45"/><circle cx="574.24" cy="147.07" r="1.45"/><circle cx="574.93" cy="146.23" r="1.45"/><circle cx="575.61" cy="145.08" r="1.45"/><circle cx="576.30" cy="144.41" r="1.45"/><circle cx="576.98" cy="143.76" r="1.45"/><circle cx="577.66" cy="143.80" r="1.45"/><circle cx="578.35" cy="141.53" r="1.45"/><circle cx="579.03" cy="140.83" r="1.45"/><circle cx="579.72" cy="140.93" r="1.45"/><circle cx="580.40" cy="138.85" r="1.45"/><circle cx="581.08" cy="137.36" r="1.45"/><circle cx="581.77" cy="136.11" r="1.45"/><circle cx="582.45" cy="135.89" r="1.45"/><circle cx="583.14" cy="134.14" r="1.45"/><circle cx="583.82" cy="134.09" r="1.45"/><circle cx="584.50" cy="132.48" r="1.45"/><circle cx="585.19" cy="131.23" r="1.45"/><circle cx="585.87" cy="128.28" r="1.45"/><circle cx="586.56" cy="126.36" r="1.45"/><circle cx="587.24" cy="124.79" r="1.45"/><circle cx="587.92" cy="123.94" r="1.45"/><circle cx="588.61" cy="122.66" r="1.45"/><circle cx="589.29" cy="120.38" r="1.45"/><circle cx="589.98" cy="118.15" r="1.45"/><circle cx="590.66" cy="116.64" r="1.45"/><circle cx="591.34" cy="115.10" r="1.45"/><circle cx="592.03" cy="113.18" r="1.45"/><circle cx="592.71" cy="111.22" r="1.45"/><circle cx="593.40" cy="109.20" r="1.45"/><circle cx="594.08" cy="106.51" r="1.45"/><circle cx="594.76" cy="102.97" r="1.45"/><circle cx="595.45" cy="101.81" r="1.45"/><circle cx="596.13" cy="97.98" r="1.45"/><circle cx="596.82" cy="95.62" r="1.45"/><circle cx="597.50" cy="92.17" r="1.45"/><circle cx="598.18" cy="89.65" r="1.45"/><circle cx="598.87" cy="85.16" r="1.45"/><circle cx="599.55" cy="81.68" r="1.45"/><circle cx="600.24" cy="77.94" r="1.45"/><circle cx="600.92" cy="73.89" r="1.45"/><circle cx="601.60" cy="71.37" r="1.45"/><circle cx="602.29" cy="66.70" r="1.45"/><circle cx="602.97" cy="62.11" r="1.45"/><circle cx="603.66" cy="58.17" r="1.45"/><circle cx="604.34" cy="55.36" r="1.45"/><circle cx="605.02" cy="50.52" r="1.45"/><circle cx="605.71" cy="46.29" r="1.45"/><circle cx="606.39" cy="44.05" r="1.45"/><circle cx="607.08" cy="40.67" r="1.45"/><circle cx="607.76" cy="38.69" r="1.45"/><circle cx="608.44" cy="34.73" r="1.45"/><circle cx="609.13" cy="33.83" r="1.45"/><circle cx="609.81" cy="33.45" r="1.45"/><circle cx="610.50" cy="33.06" r="1.45"/><circle cx="611.18" cy="33.43" r="1.45"/><circle cx="611.86" cy="32.59" r="1.45"/><circle cx="612.55" cy="34.67" r="1.45"/><circle cx="613.23" cy="36.58" r="1.45"/><circle cx="613.92" cy="39.61" r="1.45"/><circle cx="614.60" cy="44.68" r="1.45"/><circle cx="615.28" cy="47.96" r="1.45"/><circle cx="615.97" cy="53.21" r="1.45"/><circle cx="616.65" cy="57.08" r="1.45"/><circle cx="617.34" cy="63.40" r="1.45"/><circle cx="618.02" cy="68.18" r="1.45"/><circle cx="618.70" cy="73.60" r="1.45"/><circle cx="619.39" cy="80.54" r="1.45"/><circle cx="620.07" cy="86.82" r="1.45"/><circle cx="620.76" cy="91.04" r="1.45"/><circle cx="621.44" cy="97.81" r="1.45"/><circle cx="622.12" cy="103.49" r="1.45"/><circle cx="622.81" cy="108.09" r="1.45"/><circle cx="623.49" cy="113.54" r="1.45"/><circle cx="624.18" cy="117.94" r="1.45"/><circle cx="624.86" cy="122.60" r="1.45"/><circle cx="625.54" cy="126.91" r="1.45"/><circle cx="626.23" cy="131.48" r="1.45"/><circle cx="626.91" cy="135.12" r="1.45"/><circle cx="627.60" cy="137.43" r="1.45"/><circle cx="628.28" cy="139.93" r="1.45"/><circle cx="628.96" cy="143.15" r="1.45"/><circle cx="629.65" cy="146.15" r="1.45"/><circle cx="630.33" cy="147.20" r="1.45"/><circle cx="631.02" cy="149.25" r="1.45"/><circle cx="631.70" cy="150.61" r="1.45"/><circle cx="632.38" cy="153.17" r="1.45"/><circle cx="633.07" cy="153.87" r="1.45"/><circle cx="633.75" cy="153.94" r="1.45"/><circle cx="634.44" cy="154.92" r="1.45"/><circle cx="635.12" cy="156.29" r="1.45"/><circle cx="635.80" cy="157.28" r="1.45"/><circle cx="636.49" cy="158.04" r="1.45"/><circle cx="637.17" cy="157.45" r="1.45"/><circle cx="637.86" cy="158.03" r="1.45"/><circle cx="638.54" cy="159.47" r="1.45"/><circle cx="639.22" cy="159.23" r="1.45"/><circle cx="639.91" cy="159.26" r="1.45"/><circle cx="640.59" cy="159.55" r="1.45"/><circle cx="641.28" cy="161.06" r="1.45"/><circle cx="641.96" cy="159.96" r="1.45"/><circle cx="642.64" cy="160.64" r="1.45"/><circle cx="643.33" cy="160.36" r="1.45"/><circle cx="644.01" cy="160.60" r="1.45"/><circle cx="644.70" cy="161.60" r="1.45"/><circle cx="645.38" cy="161.96" r="1.45"/><circle cx="646.06" cy="160.78" r="1.45"/><circle cx="646.75" cy="160.52" r="1.45"/><circle cx="647.43" cy="161.64" r="1.45"/><circle cx="648.12" cy="160.65" r="1.45"/><circle cx="648.80" cy="160.30" r="1.45"/><circle cx="649.48" cy="162.13" r="1.45"/><circle cx="650.17" cy="161.21" r="1.45"/><circle cx="650.85" cy="162.04" r="1.45"/><circle cx="651.54" cy="161.24" r="1.45"/><circle cx="652.22" cy="162.21" r="1.45"/><circle cx="652.90" cy="161.39" r="1.45"/><circle cx="653.59" cy="160.81" r="1.45"/><circle cx="654.27" cy="160.53" r="1.45"/><circle cx="654.96" cy="161.62" r="1.45"/><circle cx="655.64" cy="161.80" r="1.45"/><circle cx="656.32" cy="162.35" r="1.45"/><circle cx="657.01" cy="160.72" r="1.45"/><circle cx="657.69" cy="161.79" r="1.45"/><circle cx="658.38" cy="161.30" r="1.45"/><circle cx="659.06" cy="161.57" r="1.45"/><circle cx="659.74" cy="160.86" r="1.45"/><circle cx="660.43" cy="161.14" r="1.45"/><circle cx="661.11" cy="161.62" r="1.45"/><circle cx="661.80" cy="162.43" r="1.45"/><circle cx="662.48" cy="160.80" r="1.45"/><circle cx="663.16" cy="161.56" r="1.45"/><circle cx="663.85" cy="162.19" r="1.45"/><circle cx="664.53" cy="162.52" r="1.45"/><circle cx="665.22" cy="160.98" r="1.45"/><circle cx="665.90" cy="160.84" r="1.45"/><circle cx="666.58" cy="162.47" r="1.45"/><circle cx="667.27" cy="162.54" r="1.45"/><circle cx="667.95" cy="161.56" r="1.45"/><circle cx="668.64" cy="160.70" r="1.45"/><circle cx="669.32" cy="162.44" r="1.45"/><circle cx="670.00" cy="161.37" r="1.45"/><circle cx="670.69" cy="162.40" r="1.45"/><circle cx="671.37" cy="161.83" r="1.45"/><circle cx="672.06" cy="162.24" r="1.45"/><circle cx="672.74" cy="160.92" r="1.45"/><circle cx="673.42" cy="162.17" r="1.45"/><circle cx="674.11" cy="161.04" r="1.45"/><circle cx="674.79" cy="161.41" r="1.45"/><circle cx="675.48" cy="162.29" r="1.45"/><circle cx="676.16" cy="162.26" r="1.45"/><circle cx="676.84" cy="160.96" r="1.45"/><circle cx="677.53" cy="161.03" r="1.45"/><circle cx="678.21" cy="161.40" r="1.45"/><circle cx="678.90" cy="161.63" r="1.45"/>
</g>
<path d="M488.80 155.30 L489.30 155.30 L489.80 155.30 L490.30 155.30 L490.80 155.30 L491.30 155.30 L491.80 155.30 L492.30 155.30 L492.80 155.30 L493.30 155.30 L493.80 155.30 L494.30 155.30 L494.80 155.30 L495.30 155.30 L495.80 155.30 L496.30 155.30 L496.80 155.30 L497.30 155.30 L497.80 155.30 L498.30 155.30 L498.80 155.30 L499.30 155.30 L499.80 155.30 L500.30 155.30 L500.80 155.30 L501.30 155.30 L501.80 155.30 L502.30 155.30 L502.80 155.30 L503.30 155.30 L503.80 155.30 L504.30 155.30 L504.80 155.30 L505.30 155.30 L505.80 155.30 L506.30 155.30 L506.80 155.30 L507.30 155.30 L507.80 155.30 L508.30 155.30 L508.80 155.30 L509.30 155.30 L509.80 155.29 L510.30 155.29 L510.80 155.29 L511.30 155.29 L511.80 155.29 L512.30 155.29 L512.80 155.28 L513.30 155.28 L513.80 155.27 L514.30 155.27 L514.80 155.26 L515.30 155.26 L515.80 155.25 L516.30 155.24 L516.80 155.23 L517.30 155.22 L517.80 155.21 L518.30 155.19 L518.80 155.17 L519.30 155.16 L519.80 155.13 L520.30 155.11 L520.80 155.08 L521.30 155.04 L521.80 155.01 L522.30 154.97 L522.80 154.92 L523.30 154.87 L523.80 154.81 L524.30 154.74 L524.80 154.67 L525.30 154.59 L525.80 154.50 L526.30 154.40 L526.80 154.29 L527.30 154.18 L527.80 154.05 L528.30 153.91 L528.80 153.75 L529.30 153.59 L529.80 153.41 L530.30 153.22 L530.80 153.01 L531.30 152.79 L531.80 152.55 L532.30 152.29 L532.80 152.02 L533.30 151.74 L533.80 151.44 L534.30 151.12 L534.80 150.78 L535.30 150.43 L535.80 150.07 L536.30 149.69 L536.80 149.30 L537.30 148.89 L537.80 148.47 L538.30 148.04 L538.80 147.60 L539.30 147.15 L539.80 146.70 L540.30 146.24 L540.80 145.78 L541.30 145.32 L541.80 144.86 L542.30 144.40 L542.80 143.95 L543.30 143.50 L543.80 143.07 L544.30 142.65 L544.80 142.24 L545.30 141.85 L545.80 141.48 L546.30 141.13 L546.80 140.81 L547.30 140.51 L547.80 140.24 L548.30 140.00 L548.80 139.79 L549.30 139.61 L549.80 139.46 L550.30 139.35 L550.80 139.27 L551.30 139.23 L551.80 139.23 L552.30 139.25 L552.80 139.32 L553.30 139.41 L553.80 139.54 L554.30 139.70 L554.80 139.89 L555.30 140.11 L555.80 140.36 L556.30 140.63 L556.80 140.93 L557.30 141.24 L557.80 141.58 L558.30 141.92 L558.80 142.28 L559.30 142.66 L559.80 143.03 L560.30 143.41 L560.80 143.80 L561.30 144.18 L561.80 144.56 L562.30 144.93 L562.80 145.29 L563.30 145.64 L563.80 145.97 L564.30 146.29 L564.80 146.59 L565.30 146.86 L565.80 147.12 L566.30 147.34 L566.80 147.55 L567.30 147.72 L567.80 147.86 L568.30 147.97 L568.80 148.05 L569.30 148.09 L569.80 148.10 L570.30 148.07 L570.80 148.00 L571.30 147.90 L571.80 147.76 L572.30 147.59 L572.80 147.37 L573.30 147.11 L573.80 146.82 L574.30 146.49 L574.80 146.12 L575.30 145.70 L575.80 145.25 L576.30 144.77 L576.80 144.24 L577.30 143.68 L577.80 143.07 L578.30 142.43 L578.80 141.76 L579.30 141.05 L579.80 140.30 L580.30 139.52 L580.80 138.71 L581.30 137.86 L581.80 136.98 L582.30 136.07 L582.80 135.13 L583.30 134.16 L583.80 133.17 L584.30 132.14 L584.80 131.09 L585.30 130.01 L585.80 128.91 L586.30 127.78 L586.80 126.63 L587.30 125.45 L587.80 124.25 L588.30 123.02 L588.80 121.76 L589.30 120.47 L589.80 119.15 L590.30 117.80 L590.80 116.41 L591.30 114.99 L591.80 113.52 L592.30 112.01 L592.80 110.44 L593.30 108.82 L593.80 107.15 L594.30 105.40 L594.80 103.59 L595.30 101.71 L595.80 99.74 L596.30 97.69 L596.80 95.56 L597.30 93.33 L597.80 91.02 L598.30 88.61 L598.80 86.11 L599.30 83.52 L599.80 80.85 L600.30 78.10 L600.80 75.27 L601.30 72.38 L601.80 69.45 L602.30 66.48 L602.80 63.49 L603.30 60.50 L603.80 57.53 L604.30 54.61 L604.80 51.75 L605.30 49.00 L605.80 46.36 L606.30 43.87 L606.80 41.55 L607.30 39.45 L607.80 37.57 L608.30 35.94 L608.80 34.60 L609.30 33.55 L609.80 32.83 L610.30 32.44 L610.80 32.40 L611.30 32.71 L611.80 33.39 L612.30 34.44 L612.80 35.84 L613.30 37.60 L613.80 39.70 L614.30 42.13 L614.80 44.87 L615.30 47.90 L615.80 51.19 L616.30 54.72 L616.80 58.46 L617.30 62.38 L617.80 66.45 L618.30 70.63 L618.80 74.90 L619.30 79.22 L619.80 83.57 L620.30 87.90 L620.80 92.21 L621.30 96.45 L621.80 100.61 L622.30 104.66 L622.80 108.59 L623.30 112.38 L623.80 116.02 L624.30 119.50 L624.80 122.81 L625.30 125.94 L625.80 128.89 L626.30 131.67 L626.80 134.26 L627.30 136.67 L627.80 138.92 L628.30 140.99 L628.80 142.90 L629.30 144.66 L629.80 146.27 L630.30 147.74 L630.80 149.09 L631.30 150.31 L631.80 151.41 L632.30 152.42 L632.80 153.33 L633.30 154.15 L633.80 154.88 L634.30 155.55 L634.80 156.15 L635.30 156.69 L635.80 157.17 L636.30 157.61 L636.80 158.00 L637.30 158.35 L637.80 158.67 L638.30 158.95 L638.80 159.21 L639.30 159.44 L639.80 159.65 L640.30 159.84 L640.80 160.01 L641.30 160.16 L641.80 160.30 L642.30 160.42 L642.80 160.54 L643.30 160.64 L643.80 160.73 L644.30 160.81 L644.80 160.89 L645.30 160.96 L645.80 161.02 L646.30 161.08 L646.80 161.13 L647.30 161.17 L647.80 161.22 L648.30 161.25 L648.80 161.29 L649.30 161.32 L649.80 161.35 L650.30 161.37 L650.80 161.39 L651.30 161.41 L651.80 161.43 L652.30 161.45 L652.80 161.46 L653.30 161.48 L653.80 161.49 L654.30 161.50 L654.80 161.51 L655.30 161.52 L655.80 161.53 L656.30 161.53 L656.80 161.54 L657.30 161.55 L657.80 161.55 L658.30 161.55 L658.80 161.56 L659.30 161.56 L659.80 161.57 L660.30 161.57 L660.80 161.57 L661.30 161.57 L661.80 161.58 L662.30 161.58 L662.80 161.58 L663.30 161.58 L663.80 161.58 L664.30 161.58 L664.80 161.59 L665.30 161.59 L665.80 161.59 L666.30 161.59 L666.80 161.59 L667.30 161.59 L667.80 161.59 L668.30 161.59 L668.80 161.59 L669.30 161.59 L669.80 161.59 L670.30 161.59 L670.80 161.59 L671.30 161.59 L671.80 161.59 L672.30 161.59 L672.80 161.60 L673.30 161.60 L673.80 161.60 L674.30 161.60 L674.80 161.60 L675.30 161.60 L675.80 161.60 L676.30 161.60 L676.80 161.60 L677.30 161.60 L677.80 161.60 L678.30 161.60 L678.80 161.60 L679.30 161.60" stroke="#c8c8c8" stroke-width="0.8" fill="none" stroke-linejoin="round" />
<text x="0" y="0" font-size="13.3" text-anchor="middle" fill="#1a1a1a" stroke="#1a1a1a" stroke-width="0.06" transform="translate(479.00,91.50) rotate(-90)">Intensity (a.u.)</text>
<text x="489.60" y="29.40" font-size="10" text-anchor="start" fill="#1a1a1a" stroke="#1a1a1a" stroke-width="0.06" >O1s</text>
<circle cx="496.1" cy="38.0" r="1.9" fill="url(#sph2)" stroke="#555" stroke-width="0.35"/>
<text x="505.80" y="40.60" font-size="9.95" text-anchor="start" fill="#1a1a1a" stroke="#1a1a1a" stroke-width="0.06" >Original</text>
<path d="M489.1 50.5H502.9" stroke="#e8302a" stroke-width="1.1"/>
<text x="505.80" y="54.00" font-size="9.95" text-anchor="start" fill="#1a1a1a" stroke="#1a1a1a" stroke-width="0.06" >531.7 eV</text>
<path d="M489.1 62.8H502.9" stroke="#3535e8" stroke-width="1.1"/>
<text x="505.80" y="66.30" font-size="9.95" text-anchor="start" fill="#1a1a1a" stroke="#1a1a1a" stroke-width="0.06" >535.4 eV</text>
<path d="M489.1 75.3H502.9" stroke="#33a02c" stroke-width="1.1"/>
<text x="505.80" y="78.80" font-size="9.95" text-anchor="start" fill="#1a1a1a" stroke="#1a1a1a" stroke-width="0.06" >530.9 eV</text>
<path d="M489.1 87.8H502.9" stroke="#c0c0c0" stroke-width="1.1"/>
<text x="505.80" y="91.30" font-size="9.95" text-anchor="start" fill="#1a1a1a" stroke="#1a1a1a" stroke-width="0.06" >Fitting</text>
<text x="622.60" y="88.10" font-size="10" text-anchor="start" fill="#2f9e2f" stroke="#2f9e2f" stroke-width="0.06" >C=O</text>
<text x="561.50" y="96.00" font-size="10" text-anchor="start" fill="#e8292b" stroke="#e8292b" stroke-width="0.06" >C-OH/</text>
<text x="561.50" y="109.00" font-size="10" text-anchor="start" fill="#e8292b" stroke="#e8292b" stroke-width="0.06" >C-O-C</text>
<text x="533.00" y="134.20" font-size="10" text-anchor="start" fill="#2f2fe6" stroke="#2f2fe6" stroke-width="0.06" >O-C=O</text>
</g>
<g>
<text x="0.70" y="202.90" font-size="18.5" text-anchor="start" fill="#1a1a1a" stroke="#1a1a1a" stroke-width="0.06" >d</text>
<rect x="29.20" y="213.40" width="190.50" height="153.60" fill="none" stroke="#555555" stroke-width="1.1"/>
<path d="M50.30 367.00v1.8M72.40 367.00v3.2M94.50 367.00v1.8M116.60 367.00v3.2M138.70 367.00v1.8M160.80 367.00v3.2M182.90 367.00v1.8M205.00 367.00v3.2" stroke="#555555" stroke-width="1.1" fill="none"/>
<text x="72.40" y="379.80" font-size="10" text-anchor="middle" fill="#1a1a1a" stroke="#1a1a1a" stroke-width="0.06" >3200</text>
<text x="116.60" y="379.80" font-size="10" text-anchor="middle" fill="#1a1a1a" stroke="#1a1a1a" stroke-width="0.06" >2400</text>
<text x="160.80" y="379.80" font-size="10" text-anchor="middle" fill="#1a1a1a" stroke="#1a1a1a" stroke-width="0.06" >1600</text>
<text x="205.00" y="379.80" font-size="10" text-anchor="middle" fill="#1a1a1a" stroke="#1a1a1a" stroke-width="0.06" >800</text>
<text x="124.4" y="397.5" font-size="13.3" text-anchor="middle" fill="#1a1a1a" stroke="#1a1a1a" stroke-width="0.06">Wavenumber (cm<tspan font-size="8.5" dy="-5">-1</tspan><tspan dy="5">)</tspan></text>
<text x="0" y="0" font-size="13.3" text-anchor="middle" fill="#1a1a1a" stroke="#1a1a1a" stroke-width="0.06" transform="translate(18.50,289.20) rotate(-90)">Transmittance (%)</text>
<path d="M29.90 230.30 L37.00 232.20 L44.80 234.30 L46.80 235.80 L49.00 238.50 L51.40 241.80 L54.90 248.50 L58.00 254.00 L61.80 259.70 L64.00 261.90 L66.50 263.20 L69.80 264.00 L72.80 263.60 L75.80 262.20 L78.20 260.00 L81.00 257.60 L83.20 255.70 L85.00 255.30 L86.20 256.10 L87.40 257.70 L88.30 256.50 L90.00 254.90 L93.00 252.50 L95.00 250.50 L98.20 248.20 L101.00 246.50 L104.20 244.50 L108.00 242.70 L114.60 240.70 L117.00 239.50 L120.00 238.40 L123.00 236.40 L126.00 234.60 L128.00 234.10 L130.50 234.60 L134.90 230.90 L140.00 228.60 L145.00 226.60 L149.90 224.50 L153.60 224.50 L154.90 226.50 L155.80 231.00 L157.50 241.20 L158.70 250.50 L159.70 259.90 L161.20 287.90 L161.90 305.00 L162.30 311.40 L162.80 305.00 L163.80 286.00 L164.60 264.00 L165.30 255.50 L166.00 262.00 L167.50 286.00 L169.50 305.00 L170.50 318.00 L171.30 330.40 L171.80 318.00 L172.60 296.00 L173.20 285.00 L173.90 281.90 L175.50 270.00 L177.20 258.00 L178.40 248.00 L179.30 245.50 L180.60 243.10 L182.40 245.40 L183.20 250.00 L184.00 259.90 L184.70 287.90 L186.20 315.00 L187.30 335.00 L188.00 346.60 L188.70 335.00 L189.20 310.00 L189.60 291.00 L190.30 283.40 L190.90 290.00 L191.60 301.00 L192.20 294.00 L192.90 286.00 L193.70 278.10 L194.40 281.10 L195.50 278.10 L196.60 260.00 L197.80 244.50 L198.50 236.00 L199.30 229.40 L199.90 232.00 L200.50 260.50 L200.90 250.00 L201.30 234.00 L202.90 233.10 L204.50 235.00 L205.90 236.90 L206.50 244.30 L207.50 239.30 L209.10 239.30 L210.40 243.80 L211.70 246.10 L212.40 246.60 L213.50 258.00 L214.30 275.00 L214.80 301.80 L215.40 280.00 L216.20 257.40 L217.10 244.00 L218.20 242.90 L219.20 240.00 L219.70 222.00" stroke="#0e0e0e" stroke-width="1.35" fill="none" stroke-linejoin="round" />
<text x="62.00" y="277.30" font-size="10.3" text-anchor="start" fill="#1a1a1a" stroke="#1a1a1a" stroke-width="0.06" >-OH</text>
<text x="120.70" y="342.90" font-size="10.1" text-anchor="start" fill="#1a1a1a" stroke="#1a1a1a" stroke-width="0.06" >Benzene ring</text>
<text x="173.00" y="357.60" font-size="10.3" text-anchor="start" fill="#1a1a1a" stroke="#1a1a1a" stroke-width="0.06" >C-O-C</text>
</g>
<g>
<text x="234.30" y="202.90" font-size="18.5" text-anchor="start" fill="#1a1a1a" stroke="#1a1a1a" stroke-width="0.06" >e</text>
<rect x="255.50" y="215.50" width="192.10" height="153.60" fill="none" stroke="#555555" stroke-width="1.1"/>
<path d="M255.50 347.25h-3.2M255.50 325.30h-1.8M255.50 303.35h-3.2M255.50 281.40h-1.8M255.50 259.45h-3.2M255.50 237.50h-1.8M255.50 215.55h-3.2" stroke="#555555" stroke-width="1.1" fill="none"/>
<text x="250.50" y="350.75" font-size="10" text-anchor="end" fill="#1a1a1a" stroke="#1a1a1a" stroke-width="0.06" >0</text>
<text x="250.50" y="306.85" font-size="10" text-anchor="end" fill="#1a1a1a" stroke="#1a1a1a" stroke-width="0.06" >20</text>
<text x="250.50" y="262.95" font-size="10" text-anchor="end" fill="#1a1a1a" stroke="#1a1a1a" stroke-width="0.06" >40</text>
<text x="250.50" y="219.05" font-size="10" text-anchor="end" fill="#1a1a1a" stroke="#1a1a1a" stroke-width="0.06" >60</text>
<path d="M272.91 369.10v3.2M299.02 369.10v1.8M325.14 369.10v3.2M351.25 369.10v1.8M377.37 369.10v3.2M403.49 369.10v1.8M429.60 369.10v3.2" stroke="#555555" stroke-width="1.1" fill="none"/>
<text x="273.41" y="382.60" font-size="10" text-anchor="middle" fill="#1a1a1a" stroke="#1a1a1a" stroke-width="0.06" >20</text>
<text x="325.64" y="382.60" font-size="10" text-anchor="middle" fill="#1a1a1a" stroke="#1a1a1a" stroke-width="0.06" >80</text>
<text x="377.87" y="382.60" font-size="10" text-anchor="middle" fill="#1a1a1a" stroke="#1a1a1a" stroke-width="0.06" >140</text>
<text x="430.10" y="382.60" font-size="10" text-anchor="middle" fill="#1a1a1a" stroke="#1a1a1a" stroke-width="0.06" >200</text>
<text x="348.90" y="396.30" font-size="13.3" text-anchor="middle" fill="#1a1a1a" stroke="#1a1a1a" stroke-width="0.06" >Time (s)</text>
<text x="0" y="0" font-size="13.3" text-anchor="middle" fill="#1a1a1a" stroke="#1a1a1a" stroke-width="0.06" transform="translate(234.50,291.90) rotate(-90)">Current (nA)</text>
<path d="M255.80 238.63 L256.26 238.41 L256.71 238.76 L257.17 239.65 L257.63 240.08 L258.09 238.97 L258.54 239.92 L259.00 240.39 L259.47 239.45 L259.94 240.79 L260.41 239.86 L260.89 240.72 L261.36 240.79 L261.83 241.05 L262.30 240.71 L262.76 240.96 L263.23 241.27 L263.69 241.11 L264.15 241.54 L264.61 241.30 L265.07 241.36 L265.54 240.81 L266.00 241.78 L266.45 241.54 L266.91 241.12 L267.36 241.88 L267.81 241.86 L268.27 241.34 L268.72 240.88 L269.17 241.28 L269.63 240.69 L270.08 240.68 L270.53 241.10 L270.99 240.55 L271.44 241.03 L271.89 241.10 L272.35 240.35 L272.80 241.20 L272.90 300.00 L273.50 335.50 L274.00 341.87 L274.27 343.22 L274.53 343.65 L274.80 343.62 L275.22 343.18 L275.63 344.11 L276.05 344.17 L276.47 345.28 L276.88 344.30 L277.30 345.64 L277.75 345.91 L278.20 345.58 L278.65 345.77 L279.10 344.91 L279.55 346.16 L280.00 345.49 L280.47 346.23 L280.94 346.22 L281.41 345.15 L281.88 346.13 L282.35 346.40 L282.82 345.15 L283.29 345.63 L283.76 346.28 L284.23 345.44 L284.70 346.59 L285.11 345.85 L285.52 346.85 L285.94 346.03 L286.35 346.75 L286.76 347.57 L287.18 346.69 L287.59 346.96 L288.00 347.51 L288.41 347.41 L288.83 347.18 L289.24 347.58 L289.66 347.73 L290.07 349.08 L290.49 348.88 L290.90 349.39 L291.15 348.80 L291.25 280.00 L291.30 245.70 L291.44 246.11 L291.58 244.58 L291.72 244.69 L291.86 244.32 L292.00 243.39 L292.27 243.78 L292.55 242.93 L292.83 242.60 L293.10 242.67 L293.48 241.21 L293.86 242.24 L294.24 241.39 L294.62 240.74 L295.00 241.05 L295.40 240.03 L295.80 240.90 L296.20 240.07 L296.60 239.52 L297.00 239.91 L297.40 239.21 L297.88 238.70 L298.35 239.44 L298.82 238.28 L299.30 239.33 L299.77 238.37 L300.25 238.83 L300.72 239.24 L301.20 238.53 L301.62 238.85 L302.03 238.52 L302.45 238.25 L302.87 238.50 L303.28 238.87 L303.70 239.77 L304.20 239.46 L304.70 239.54 L305.20 240.08 L305.70 238.90 L306.20 239.00 L306.70 239.60 L307.20 238.62 L307.70 238.55 L307.80 300.00 L308.50 333.50 L309.00 340.28 L309.30 340.26 L309.60 340.99 L310.07 340.84 L310.53 341.43 L311.00 341.48 L311.47 340.96 L311.93 341.64 L312.40 341.46 L312.85 341.10 L313.31 342.45 L313.76 341.55 L314.22 341.56 L314.67 341.62 L315.13 342.58 L315.58 343.08 L316.04 343.09 L316.49 342.66 L316.95 342.60 L317.40 342.37 L317.79 343.63 L318.17 343.82 L318.56 343.81 L318.95 344.57 L319.34 344.58 L319.73 345.63 L320.11 345.64 L320.50 345.22 L320.94 346.46 L321.39 345.43 L321.83 346.42 L322.27 346.49 L322.71 346.49 L323.16 346.48 L323.60 347.82 L324.12 346.74 L324.65 347.63 L325.18 348.29 L325.70 347.16 L326.05 347.70 L326.15 280.00 L326.20 247.05 L326.32 247.21 L326.43 246.61 L326.55 246.36 L326.67 246.17 L326.78 244.76 L326.90 244.51 L327.22 244.13 L327.55 243.37 L327.88 244.26 L328.20 243.72 L328.65 243.40 L329.10 242.11 L329.55 243.14 L330.00 242.77 L330.46 242.25 L330.92 242.56 L331.38 242.03 L331.84 241.59 L332.30 241.31 L332.76 241.37 L333.23 240.95 L333.69 241.27 L334.15 241.77 L334.62 241.56 L335.08 241.65 L335.55 241.33 L336.01 240.53 L336.47 240.84 L336.94 240.53 L337.40 240.93 L337.85 240.63 L338.30 240.33 L338.75 240.99 L339.20 241.56 L339.65 240.53 L340.10 241.62 L340.55 240.41 L341.00 240.87 L341.45 240.93 L341.90 241.78 L342.35 242.18 L342.80 241.97 L342.90 300.00 L343.80 333.50 L344.30 340.24 L344.53 341.50 L344.77 341.11 L345.00 341.41 L345.50 342.66 L346.00 342.50 L346.50 342.84 L347.00 343.05 L347.46 343.66 L347.93 343.03 L348.39 343.72 L348.85 343.65 L349.31 344.02 L349.77 343.53 L350.24 344.10 L350.70 344.01 L351.13 343.77 L351.56 343.79 L351.99 344.56 L352.42 343.91 L352.85 345.32 L353.28 344.33 L353.71 344.31 L354.14 344.59 L354.57 345.98 L355.00 345.27 L355.43 345.16 L355.86 345.18 L356.29 345.39 L356.72 346.56 L357.15 346.66 L357.58 346.95 L358.02 347.20 L358.45 346.39 L358.88 347.37 L359.31 347.22 L359.74 348.09 L360.17 348.29 L360.60 348.59 L361.05 348.00 L361.15 280.00 L361.20 250.35 L361.34 251.07 L361.48 250.66 L361.62 250.23 L361.76 248.49 L361.90 248.16 L362.17 247.62 L362.45 247.10 L362.73 247.92 L363.00 247.47 L363.50 246.95 L364.00 246.99 L364.50 246.45 L365.00 245.68 L365.44 245.29 L365.89 245.17 L366.33 246.05 L366.78 245.11 L367.22 245.17 L367.67 245.22 L368.11 244.50 L368.56 244.75 L369.00 244.67 L369.44 245.25 L369.89 244.65 L370.33 244.50 L370.78 245.38 L371.22 244.62 L371.67 245.06 L372.11 244.63 L372.56 243.67 L373.00 244.17 L373.48 244.15 L373.96 244.61 L374.44 243.92 L374.92 244.41 L375.40 244.11 L375.88 243.57 L376.36 244.49 L376.84 243.29 L377.32 244.33 L377.80 243.31 L377.90 300.00 L378.60 332.60 L379.10 338.85 L379.33 339.62 L379.57 340.93 L379.80 341.72 L380.24 340.52 L380.68 341.51 L381.12 341.77 L381.56 342.49 L382.00 341.83 L382.43 342.49 L382.85 342.47 L383.27 343.40 L383.70 342.74 L384.12 343.97 L384.55 343.18 L384.97 343.27 L385.40 344.20 L385.86 344.06 L386.32 343.63 L386.78 344.58 L387.24 343.91 L387.70 345.13 L388.16 345.16 L388.62 345.45 L389.08 345.37 L389.54 345.12 L390.00 345.35 L390.44 345.49 L390.88 346.38 L391.32 345.32 L391.75 346.67 L392.19 345.52 L392.63 345.94 L393.07 346.17 L393.51 347.27 L393.95 346.82 L394.38 346.78 L394.82 347.68 L395.26 346.85 L395.70 347.34 L395.85 347.40 L395.95 280.00 L396.00 251.05 L396.14 250.88 L396.28 250.38 L396.42 249.72 L396.56 248.77 L396.70 248.24 L397.07 247.58 L397.43 248.21 L397.80 247.54 L398.23 247.46 L398.65 246.40 L399.07 246.61 L399.50 246.91 L399.94 246.52 L400.38 245.74 L400.82 246.14 L401.26 246.68 L401.70 245.61 L402.14 245.64 L402.58 245.90 L403.02 246.60 L403.47 246.92 L403.91 245.98 L404.35 246.08 L404.79 246.32 L405.23 246.54 L405.68 246.93 L406.12 246.49 L406.56 246.84 L407.00 246.73 L407.45 248.01 L407.91 247.73 L408.36 246.88 L408.82 248.26 L409.27 247.06 L409.72 247.58 L410.18 248.57 L410.63 248.38 L411.08 248.38 L411.54 248.03 L411.99 247.76 L412.45 248.51 L412.90 247.81 L413.00 300.00 L413.60 333.60 L414.10 340.16 L414.37 340.87 L414.63 340.77 L414.90 341.75 L415.29 342.66 L415.67 342.84 L416.06 342.88 L416.45 343.40 L416.84 343.47 L417.23 343.31 L417.61 344.33 L418.00 344.36 L418.38 345.17 L418.75 345.74 L419.12 345.33 L419.50 345.86 L419.88 346.44 L420.25 346.26 L420.62 346.28 L421.00 347.33 L421.46 347.80 L421.91 347.87 L422.37 347.99 L422.83 348.44 L423.29 348.41 L423.74 348.58 L424.20 348.53 L424.67 348.22 L425.13 348.59 L425.60 347.70 L426.07 348.08 L426.53 348.52 L427.00 348.32 L427.42 347.99 L427.84 347.23 L428.26 347.29 L428.68 347.13 L429.10 347.18 L429.52 346.66 L429.94 346.86 L430.36 347.05 L430.78 345.72 L431.20 346.23 L431.45 346.00 L431.55 280.00 L431.60 253.92 L431.74 252.83 L431.88 252.48 L432.02 252.71 L432.16 250.81 L432.30 251.07 L432.67 250.09 L433.03 250.62 L433.40 250.46 L433.87 249.73 L434.33 249.00 L434.80 249.61 L435.20 249.80 L435.60 250.30 L436.00 250.23 L436.40 250.66 L436.80 251.19 L437.20 250.96 L437.60 251.03 L438.00 252.08 L438.40 251.21 L438.80 252.16 L439.20 251.96 L439.60 252.76 L440.00 252.03 L440.39 253.58 L440.78 252.89 L441.17 252.70 L441.56 253.28 L441.94 253.73 L442.33 253.40 L442.72 254.27 L443.11 254.53 L443.50 255.20 L443.89 254.93 L444.28 255.06 L444.67 255.25 L445.06 256.28 L445.44 256.84 L445.83 256.47 L446.22 256.27 L446.61 257.40 L447.00 257.04" stroke="#0a0a0a" stroke-width="1.5" fill="none" stroke-linejoin="round" />
</g>
<g>
<text x="467.80" y="202.90" font-size="19" text-anchor="start" fill="#1a1a1a" stroke="#1a1a1a" stroke-width="0.06" >f</text>
<rect x="485.50" y="213.50" width="190.70" height="152.80" fill="none" stroke="#555555" stroke-width="1.1"/>
<path d="M485.50 364.90h-3.2M485.50 343.30h-1.8M485.50 321.70h-3.2M485.50 300.10h-1.8M485.50 278.50h-3.2M485.50 256.90h-1.8M485.50 235.30h-3.2" stroke="#555555" stroke-width="1.1" fill="none"/>
<text x="480.20" y="368.40" font-size="10" text-anchor="end" fill="#1a1a1a" stroke="#1a1a1a" stroke-width="0.06" >0.0</text>
<text x="480.20" y="325.20" font-size="10" text-anchor="end" fill="#1a1a1a" stroke="#1a1a1a" stroke-width="0.06" >0.4</text>
<text x="480.20" y="282.00" font-size="10" text-anchor="end" fill="#1a1a1a" stroke="#1a1a1a" stroke-width="0.06" >0.8</text>
<text x="480.20" y="238.80" font-size="10" text-anchor="end" fill="#1a1a1a" stroke="#1a1a1a" stroke-width="0.06" >1.2</text>
<path d="M508.80 366.30v3.2M536.70 366.30v1.8M564.60 366.30v3.2M592.50 366.30v1.8M620.40 366.30v3.2M648.30 366.30v1.8M676.20 366.30v3.2" stroke="#555555" stroke-width="1.1" fill="none"/>
<text x="508.80" y="379.80" font-size="10" text-anchor="middle" fill="#1a1a1a" stroke="#1a1a1a" stroke-width="0.06" >300</text>
<text x="564.60" y="379.80" font-size="10" text-anchor="middle" fill="#1a1a1a" stroke="#1a1a1a" stroke-width="0.06" >400</text>
<text x="620.40" y="379.80" font-size="10" text-anchor="middle" fill="#1a1a1a" stroke="#1a1a1a" stroke-width="0.06" >500</text>
<text x="676.20" y="379.80" font-size="10" text-anchor="middle" fill="#1a1a1a" stroke="#1a1a1a" stroke-width="0.06" >600</text>
<text x="580.90" y="397.80" font-size="13.3" text-anchor="middle" fill="#1a1a1a" stroke="#1a1a1a" stroke-width="0.06" >Wavelength (nm)</text>
<text x="0" y="0" font-size="13.3" text-anchor="middle" fill="#1a1a1a" stroke="#1a1a1a" stroke-width="0.06" transform="translate(456.10,286.10) rotate(-90)">Absorbance</text>
<path d="M486.20 252.00 C486.58 250.67 487.87 246.13 488.50 244.00 C489.13 241.87 489.08 241.45 490.00 239.20 C490.92 236.95 492.75 232.35 494.00 230.50 C495.25 228.65 496.33 228.27 497.50 228.10 C498.67 227.93 499.72 227.52 501.00 229.50 C502.28 231.48 503.75 235.77 505.20 240.00 C506.65 244.23 508.13 249.92 509.70 254.90 C511.27 259.88 513.05 264.97 514.60 269.90 C516.15 274.83 517.52 279.40 519.00 284.50 C520.48 289.60 522.00 295.67 523.50 300.50 C525.00 305.33 526.42 309.42 528.00 313.50 C529.58 317.58 531.25 321.37 533.00 325.00 C534.75 328.63 536.50 332.38 538.50 335.30 C540.50 338.22 542.25 340.25 545.00 342.50 C547.75 344.75 550.83 346.90 555.00 348.80 C559.17 350.70 564.17 352.50 570.00 353.90 C575.83 355.30 581.67 356.13 590.00 357.20 C598.33 358.27 605.67 359.40 620.00 360.30 C634.33 361.20 666.67 362.22 676.00 362.60" stroke="#a066e8" stroke-width="1.3" fill="none"/>
<path d="M486.20 269.40 C486.67 268.42 487.95 265.40 489.00 263.50 C490.05 261.60 491.18 259.38 492.50 258.00 C493.82 256.62 495.65 255.47 496.90 255.20 C498.15 254.93 498.87 255.33 500.00 256.40 C501.13 257.47 502.52 259.35 503.70 261.60 C504.88 263.85 505.72 266.17 507.10 269.90 C508.48 273.63 510.12 279.00 512.00 284.00 C513.88 289.00 517.03 296.40 518.40 299.90 C519.77 303.40 518.93 301.90 520.20 305.00 C521.47 308.10 523.57 313.50 526.00 318.50 C528.43 323.50 532.47 331.40 534.80 335.00 C537.13 338.60 537.80 338.27 540.00 340.10 C542.20 341.93 544.67 344.18 548.00 346.00 C551.33 347.82 556.33 349.57 560.00 351.00 C563.67 352.43 565.00 353.47 570.00 354.60 C575.00 355.73 581.67 356.80 590.00 357.80 C598.33 358.80 605.67 359.77 620.00 360.60 C634.33 361.43 666.67 362.43 676.00 362.80" stroke="#3fae52" stroke-width="1.3" fill="none"/>
<path d="M486.20 287.30 C486.67 286.50 488.12 283.80 489.00 282.50 C489.88 281.20 490.57 280.23 491.50 279.50 C492.43 278.77 493.52 278.13 494.60 278.10 C495.68 278.07 496.62 278.27 498.00 279.30 C499.38 280.33 501.73 282.73 502.90 284.30 C504.07 285.87 503.65 286.10 505.00 288.70 C506.35 291.30 509.33 296.85 511.00 299.90 C512.67 302.95 513.17 303.65 515.00 307.00 C516.83 310.35 519.20 315.33 522.00 320.00 C524.80 324.67 528.80 331.22 531.80 335.00 C534.80 338.78 536.97 340.48 540.00 342.70 C543.03 344.92 546.67 346.70 550.00 348.30 C553.33 349.90 556.67 351.15 560.00 352.30 C563.33 353.45 565.00 354.22 570.00 355.20 C575.00 356.18 581.67 357.27 590.00 358.20 C598.33 359.13 605.67 360.00 620.00 360.80 C634.33 361.60 666.67 362.63 676.00 363.00" stroke="#2f6fe0" stroke-width="1.3" fill="none"/>
<path d="M486.20 303.40 C486.58 302.93 487.78 301.37 488.50 300.60 C489.22 299.83 489.82 299.22 490.50 298.80 C491.18 298.38 491.85 298.15 492.60 298.10 C493.35 298.05 494.17 298.25 495.00 298.50 C495.83 298.75 496.45 298.87 497.60 299.60 C498.75 300.33 500.52 301.33 501.90 302.90 C503.28 304.47 504.80 307.38 505.90 309.00 C507.00 310.62 507.50 311.37 508.50 312.60 C509.50 313.83 510.10 314.52 511.90 316.40 C513.70 318.28 516.73 320.80 519.30 323.90 C521.87 327.00 525.02 332.27 527.30 335.00 C529.58 337.73 530.88 338.65 533.00 340.30 C535.12 341.95 537.17 343.28 540.00 344.90 C542.83 346.52 546.67 348.57 550.00 350.00 C553.33 351.43 556.67 352.55 560.00 353.50 C563.33 354.45 565.00 354.85 570.00 355.70 C575.00 356.55 581.67 357.72 590.00 358.60 C598.33 359.48 605.67 360.25 620.00 361.00 C634.33 361.75 666.67 362.75 676.00 363.10" stroke="#e23c3c" stroke-width="1.3" fill="none"/>
<path d="M486.20 321.80 C486.50 321.38 487.37 320.07 488.00 319.30 C488.63 318.53 489.27 317.70 490.00 317.20 C490.73 316.70 491.57 316.40 492.40 316.30 C493.23 316.20 494.07 316.32 495.00 316.60 C495.93 316.88 496.85 317.45 498.00 318.00 C499.15 318.55 500.82 319.18 501.90 319.90 C502.98 320.62 503.67 321.65 504.50 322.30 C505.33 322.95 505.67 322.97 506.90 323.80 C508.13 324.63 510.38 326.18 511.90 327.30 C513.42 328.42 514.32 329.25 516.00 330.50 C517.68 331.75 519.67 332.90 522.00 334.80 C524.33 336.70 527.00 339.83 530.00 341.90 C533.00 343.97 536.67 345.63 540.00 347.20 C543.33 348.77 546.67 350.08 550.00 351.30 C553.33 352.52 556.67 353.57 560.00 354.50 C563.33 355.43 565.00 356.05 570.00 356.90 C575.00 357.75 583.33 358.88 590.00 359.60 C596.67 360.32 601.67 360.72 610.00 361.20 C618.33 361.68 629.00 362.13 640.00 362.50 C651.00 362.87 670.00 363.25 676.00 363.40" stroke="#2d2d2d" stroke-width="1.3" fill="none"/>
<path d="M492.2 323 L498.5 223" stroke="#222" stroke-width="0.9" stroke-dasharray="1.2 1.3" fill="none"/>
<path d="M498.6 218.8 L497.1 224.0 L500.1 224.0 Z" fill="#111"/>
<path d="M561.2 221.9H577" stroke="#505050" stroke-width="1.1"/>
<text x="580.20" y="225.50" font-size="10.2" text-anchor="start" fill="#1a1a1a" stroke="#1a1a1a" stroke-width="0.06" >AL</text>
<path d="M561.2 236.1H577" stroke="#e05a5a" stroke-width="1.1"/>
<text x="580.2" y="239.70" font-size="10.2" fill="#1a1a1a" stroke="#1a1a1a" stroke-width="0.06" xml:space="preserve">AL+0.25 <tspan font-style="italic">μ</tspan>mol Cu<tspan font-size="6.8" dy="-4.3">2+</tspan></text>
<path d="M561.2 249.6H577" stroke="#3a70d8" stroke-width="1.1"/>
<text x="580.2" y="253.20" font-size="10.2" fill="#1a1a1a" stroke="#1a1a1a" stroke-width="0.06" xml:space="preserve">AL+0.50 <tspan font-style="italic">μ</tspan>mol Cu<tspan font-size="6.8" dy="-4.3">2+</tspan></text>
<path d="M561.2 263.3H577" stroke="#48b060" stroke-width="1.1"/>
<text x="580.2" y="266.90" font-size="10.2" fill="#1a1a1a" stroke="#1a1a1a" stroke-width="0.06" xml:space="preserve">AL+0.75 <tspan font-style="italic">μ</tspan>mol Cu<tspan font-size="6.8" dy="-4.3">2+</tspan></text>
<path d="M561.2 277.4H577" stroke="#a070e0" stroke-width="1.1"/>
<text x="580.2" y="281.00" font-size="10.2" fill="#1a1a1a" stroke="#1a1a1a" stroke-width="0.06" xml:space="preserve">AL+1.00 <tspan font-style="italic">μ</tspan>mol Cu<tspan font-size="6.8" dy="-4.3">2+</tspan></text>
</g>
</svg>
</body></html>
